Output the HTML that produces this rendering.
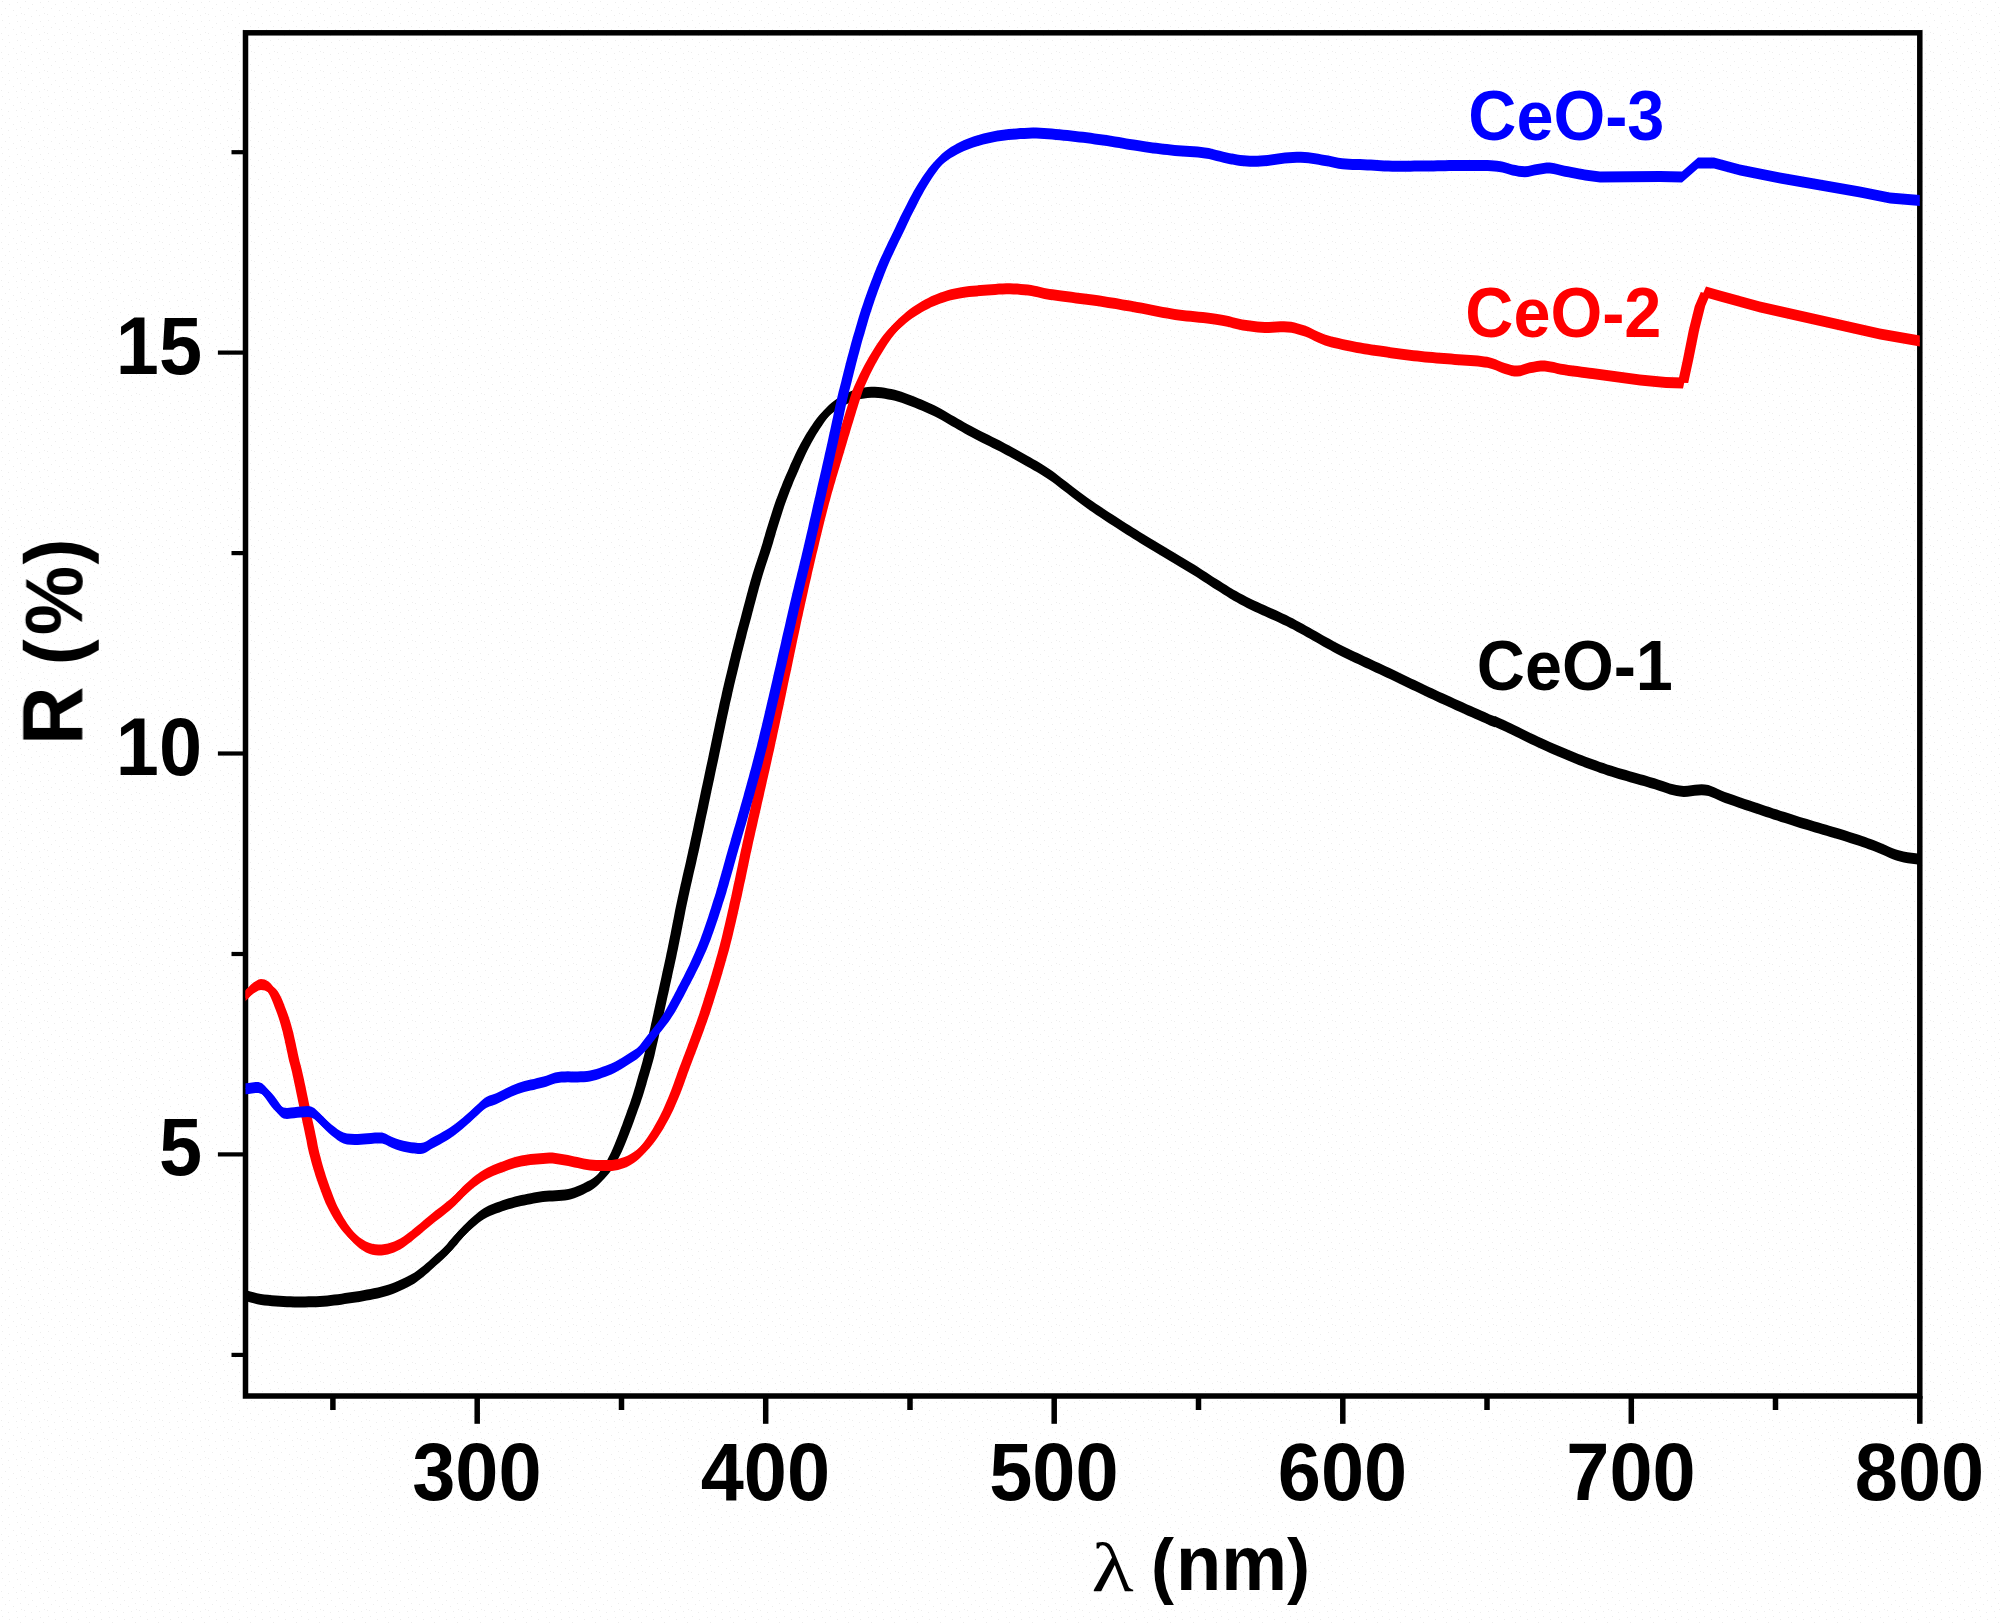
<!DOCTYPE html>
<html><head><meta charset="utf-8"><title>R vs lambda</title>
<style>
html,body{margin:0;padding:0;background:#fff;}
svg{display:block}
text{font-family:"Liberation Sans",sans-serif;font-weight:bold;}
</style></head><body>
<svg width="2001" height="1623" viewBox="0 0 2001 1623">
<defs>
<pattern id="dots" width="23" height="19" patternUnits="userSpaceOnUse">
<rect x="2" y="1" width="1" height="1"/><rect x="9" y="4" width="1" height="1"/><rect x="17" y="2" width="1" height="1"/>
<rect x="5" y="8" width="1" height="1"/><rect x="13" y="10" width="1" height="1"/><rect x="20" y="7" width="1" height="1"/>
<rect x="1" y="14" width="1" height="1"/><rect x="8" y="16" width="1" height="1"/><rect x="16" y="15" width="1" height="1"/><rect x="21" y="13" width="1" height="1"/>
</pattern>
<filter id="soft" x="0" y="0" width="100%" height="100%" filterUnits="userSpaceOnUse"><feGaussianBlur stdDeviation="0.6"/></filter>
<clipPath id="plot"><rect x="245.5" y="32.8" width="1674.3" height="1363.2"/></clipPath>
</defs>
<rect width="2001" height="1623" fill="#ffffff"/>
<rect width="2001" height="1623" fill="url(#dots)" opacity="0.07"/>
<g filter="url(#soft)">
<rect x="245.5" y="32.8" width="1674.3" height="1363.2" fill="none" stroke="#000" stroke-width="5.5"/>
<g clip-path="url(#plot)">
<g fill="#000000"><path d="M243.0,1289.5l1.6,0.4l3.3,0.9l2.6,0.6l3.1,0.9l3.5,0.9l3.9,0.7l3.4,0.5l3.7,0.4l3.9,0.4l3.9,0.3l3.9,0.3l3.6,0.2l3.5,0.2l3.7,0.1l3.8,0.1l4.1,0l3.2,0l3.5,0l3.6,-0.1l3.7,0l3.7,-0.1l3.7,-0.2l3.6,-0.2l3.6,-0.4l3.5,-0.3l3.6,-0.5l3.6,-0.4l3.6,-0.5l3.5,-0.6l3.6,-0.5l3.6,-0.6l3.7,-0.5l3.7,-0.6l3.7,-0.7l3.6,-0.6l3.5,-0.7l3.2,-0.7l4.2,-0.8l3.7,-0.9l3.7,-0.9l3.5,-1.1l3.6,-1.3l3.2,-1.2l3.3,-1.4l3.3,-1.5l3.2,-1.5l3,-1.6l2.8,-1.5l3.6,-2.1l3,-2.1l2.9,-2.2l3,-2.3l2.5,-2.2l2.5,-2.2l2.6,-2.3l2.5,-2.4l2.4,-2.2l3,-2.6l2.8,-2.5l2.9,-2.6l2.8,-2.8l2.2,-2.5l2.3,-2.6l2.2,-2.8l2.2,-2.7l2.4,-2.6l2.4,-2.6l2.5,-2.6l2.5,-2.6l2.5,-2.4l2.5,-2.4l2.6,-2.2l2.4,-2.1l2.6,-2.1l2.4,-1.9l2.6,-1.7l3.1,-1.7l3.1,-1.4l3.1,-1.3l3.1,-1.2l3.2,-1.2l3.1,-1.1l3.1,-1.1l3.2,-1l3.1,-0.8l3.1,-0.8l3.1,-0.8l3.1,-0.7l3.2,-0.7l3.1,-0.6l3.1,-0.6l3.2,-0.6l3.1,-0.5l3.1,-0.5l3.1,-0.5l3.1,-0.3l3.2,-0.3l3.1,-0.1l3.1,-0.1l3.2,-0.2l3.1,-0.3l3.1,-0.4l3.1,-0.4l3.1,-0.8l3.2,-0.9l3.1,-1.2l3.1,-1.4l3.2,-1.5l3.1,-1.6l3.3,-1.7l3.1,-2l2.9,-2.1l2.8,-2.5l2.5,-2.7l2.4,-2.9l2.3,-3.2l1.9,-2.7l1.8,-2.9l1.8,-3l1.6,-3.2l1.7,-3.2l1.6,-3.3l1.5,-3.4l1.5,-3.5l1.4,-3.6l1.5,-3.7l1.3,-3.2l1.2,-3.2l1.2,-3.4l1.3,-3.3l1.3,-3.5l1.2,-3.4l1.3,-3.5l1.2,-3.5l1.3,-3.5l1.3,-3.6l1.2,-3.6l1.2,-3.5l1.1,-3.6l1.1,-3.7l1.1,-3.6l1,-3.6l1,-3.5l1,-3.3l1,-3.6l1,-3.2l0.9,-3.2l1,-3.4l1.1,-4.1l0.7,-3l0.7,-3.2l0.8,-3.5l0.8,-3.6l0.9,-3.6l0.8,-3.7l0.7,-3.5l0.8,-3.4l0.8,-3.4l0.6,-3.1l0.7,-2.8l0.6,-3l0.8,-3.4l0.9,-4.2l1.1,-5.1l0.6,-2.8l0.7,-3.1l0.7,-3.3l0.8,-3.4l0.8,-3.7l0.8,-3.8l0.9,-3.9l0.9,-3.9l0.8,-4l0.9,-4l0.9,-4l0.8,-3.9l0.9,-3.9l0.7,-3.7l0.8,-3.6l0.8,-4l0.8,-4l0.8,-3.9l0.8,-3.9l0.7,-3.8l0.8,-3.8l0.7,-3.8l0.8,-3.8l0.7,-3.8l0.7,-3.8l0.8,-3.8l0.8,-3.8l0.8,-3.8l0.8,-3.8l0.9,-3.9l0.8,-3.8l0.9,-3.9l0.9,-3.8l0.8,-3.9l0.9,-3.8l0.9,-3.9l0.9,-3.8l0.9,-3.9l0.8,-3.8l0.9,-3.9l0.9,-3.8l0.8,-3.8l0.8,-3.9l0.8,-3.8l0.9,-3.9l0.8,-3.8l0.8,-3.9l0.8,-3.8l0.8,-3.9l0.8,-3.8l0.9,-3.9l0.8,-3.8l0.8,-3.9l0.8,-3.8l0.8,-3.8l0.8,-3.9l0.8,-3.8l0.9,-3.9l0.8,-3.8l0.8,-3.9l0.8,-3.8l0.8,-3.9l0.8,-3.8l0.9,-3.9l0.8,-3.8l0.8,-3.9l0.8,-3.8l0.8,-3.8l0.8,-3.9l0.8,-3.8l0.8,-3.9l0.8,-3.8l0.8,-3.9l0.8,-3.8l0.8,-3.9l0.8,-3.8l0.9,-3.9l0.8,-3.8l0.8,-3.9l0.9,-3.8l0.9,-3.8l0.8,-3.9l0.9,-3.8l0.9,-3.9l0.9,-3.8l0.9,-3.9l1,-3.8l0.9,-3.9l0.9,-3.8l0.9,-3.9l1,-3.8l0.9,-3.9l1,-3.8l1,-3.9l1,-4l1.1,-4.2l1,-4.1l1.1,-4.2l1.1,-4.1l1.1,-4.1l1.1,-4l1,-3.9l1,-3.7l0.9,-3.5l0.9,-3.3l0.8,-3l1.3,-4.9l1.1,-4.1l0.9,-3.5l0.9,-3.1l0.8,-3l0.9,-3l1,-3.4l1.1,-3.6l1.1,-3.5l1.2,-3.6l1.2,-3.6l1.2,-3.6l1.2,-3.5l1.1,-3.6l1.1,-3.6l1.1,-3.5l1,-3.6l1.1,-3.6l1,-3.6l1.1,-3.5l1.1,-3.6l1.1,-3.6l1.1,-3.5l1.2,-3.6l1.1,-3.6l1.2,-3.6l1.2,-3.5l1.2,-3.6l1.4,-3.6l1.3,-3.5l1.4,-3.6l1.5,-3.6l1.4,-3.6l1.5,-3.5l1.5,-3.6l1.6,-3.6l1.6,-3.7l1.5,-3.6l1.7,-3.7l1.6,-3.5l1.6,-3.5l1.7,-3.4l1.7,-3.3l1.7,-3.1l1.7,-3.1l1.7,-3.1l1.7,-2.9l1.8,-2.8l1.7,-2.7l2.4,-3.6l2.3,-3.4l2.4,-3.2l2.4,-3l2.5,-2.8l2.5,-2.5l2.6,-2.3l2.6,-2l2.8,-2l2.9,-1.9l3.3,-1.8l3.4,-1.8l3.6,-1.7l3.7,-1.5l3.5,-1.2l3.5,-0.8l3.4,-0.6l3.4,-0.4l3.6,-0.2l3.6,0l3.2,0.2l3.3,0.3l3.4,0.5l3.3,0.6l3.4,0.7l3.4,0.7l3.3,1l3.4,1l3.3,1.2l3.3,1.2l3.4,1.3l3.3,1.3l3.3,1.4l3.4,1.3l3.3,1.4l3.3,1.5l3.4,1.6l3.3,1.6l3.3,1.7l3.3,1.8l3.4,2l3.3,1.9l3.3,1.9l3.4,1.9l3.2,1.9l3.3,1.8l3.2,1.9l3.2,1.8l3.4,1.9l3.7,2l3.3,1.7l3.4,1.7l3.6,1.8l3.7,1.8l3.7,1.8l3.6,1.8l3.7,1.9l3.1,1.6l3.1,1.7l3.1,1.7l3.1,1.7l3.2,1.7l3.1,1.8l3.1,1.7l3.1,1.8l3.1,1.7l2.8,1.6l2.8,1.6l2.9,1.6l2.9,1.7l3.2,2l3.5,2.2l3.8,2.6l2.6,1.8l2.7,2l2.8,2.1l2.8,2.2l3,2.3l3.1,2.4l3.1,2.4l3.2,2.5l3.3,2.5l3.3,2.5l3.4,2.5l3.4,2.5l3.5,2.5l3,2.1l3.1,2.1l3.2,2.1l3.3,2.2l3.3,2.2l3.4,2.2l3.3,2.2l3.5,2.2l3.4,2.2l3.4,2.2l3.5,2.2l3.4,2.2l3.4,2.1l3.4,2.1l3.4,2.1l3.3,2.1l3.3,2.1l3.3,2l3.4,2l3.3,2l3.3,2l3.4,1.9l3.3,2l3.3,2l3.4,1.9l3.3,2l3.3,2l3.4,2l3.3,2l3.3,2l3.4,2.1l3.3,2.1l3.3,2.1l3.4,2.2l3.3,2.1l3.3,2.2l3.3,2.2l3.4,2.1l3.3,2.1l3.3,2.2l3.4,2l3.3,2.1l3.3,2l3.4,1.9l3.3,1.9l3.6,1.9l3.5,1.8l3.6,1.8l3.6,1.7l3.5,1.6l3.6,1.7l3.6,1.6l3.6,1.6l3.5,1.6l3.6,1.6l3.6,1.6l3.5,1.7l3.6,1.7l3.6,1.8l3.3,1.7l3.3,1.8l3.4,1.8l3.3,1.9l3.3,1.8l3.4,1.9l3.3,1.9l3.3,1.9l3.4,1.9l3.3,1.9l3.3,1.8l3.4,1.9l3.3,1.8l3.3,1.8l3.4,1.7l3.5,1.8l3.6,1.8l3.6,1.7l3.5,1.7l3.6,1.7l3.6,1.7l3.5,1.7l3.6,1.6l3.6,1.7l3.5,1.7l3.6,1.6l3.6,1.7l3.6,1.6l3.5,1.7l3.6,1.7l3.6,1.7l3.5,1.7l3.6,1.7l3.6,1.8l3.5,1.7l3.6,1.7l3.6,1.7l3.6,1.7l3.5,1.7l3.6,1.7l3.6,1.6l3.5,1.7l3.6,1.7l3.7,1.7l3.8,1.7l3.9,1.8l4,1.8l4.1,1.9l4,1.8l4,1.8l3.8,1.7l3.8,1.6l3.5,1.6l3.3,1.5l3,1.3l2.7,1.2l2.4,1.1l4.9,1.9l0.4,-0.2l4.9,2.1l2.3,1.1l2.8,1.2l3,1.5l3.3,1.6l3.5,1.7l3.7,1.8l3.9,1.9l4,1.9l4,2l4,1.9l4,1.9l4,1.8l3.8,1.8l3.7,1.6l3.5,1.6l3.6,1.5l3.6,1.5l3.6,1.5l3.5,1.5l3.6,1.5l3.6,1.4l3.5,1.5l3.6,1.4l3.6,1.4l3.5,1.3l3.6,1.3l3.6,1.3l3.6,1.3l3.6,1.2l3.7,1.3l3.7,1.2l3.8,1.1l3.8,1.2l3.8,1.1l3.8,1.1l3.7,1.1l3.7,1l3.5,1l3.4,1l3.3,0.9l3.2,0.9l2.9,0.9l4.8,1.4l4.2,1.4l4,1.4l3.6,1.2l3.4,1.1l3.3,0.9l3.3,0.8l3.4,0.5l3.9,0.3l3.8,-0.1l3.6,-0.5l3.6,-0.5l3.5,-0.4l3.3,-0.2l3.3,0.2l3.6,0.7l3.2,1.1l3.2,1.3l3.1,1.5l3.3,1.5l3.6,1.4l3.1,1.1l2.9,1.1l3,1l3.3,1.2l3.6,1.2l4.2,1.5l4.9,1.6l2.8,1l3,1l3.2,1l3.4,1.2l3.6,1.1l3.6,1.2l3.8,1.3l3.8,1.2l3.9,1.3l3.8,1.2l3.9,1.2l3.8,1.2l3.7,1.2l3.7,1.2l3.6,1.1l3.7,1.1l3.8,1.2l3.9,1.1l3.8,1.2l3.9,1.1l3.8,1.1l3.8,1.1l3.6,1.1l3.6,1.1l3.4,1l3.2,1l3,0.9l2.8,0.9l4.9,1.5l4.1,1.4l3.5,1.2l3.1,1.1l3,1.1l3.1,1.1l3.3,1.3l3.6,1.4l3.6,1.6l3.5,1.5l3.6,1.6l3.6,1.5l3.5,1.3l3.6,1.1l3.8,0.9l4.1,0.7l4.1,0.6l4,0.5l3.7,0.4l3,0.4l2.3,0.3l0,11l-2.3,-0.3l-3,-0.4l-3.7,-0.4l-4,-0.5l-4.1,-0.6l-4.1,-0.7l-3.8,-0.9l-3.6,-1.1l-3.5,-1.3l-3.6,-1.5l-3.6,-1.6l-3.5,-1.5l-3.6,-1.6l-3.6,-1.4l-3.3,-1.3l-3.1,-1.1l-3,-1.1l-3.1,-1.1l-3.5,-1.2l-4.1,-1.4l-4.9,-1.5l-2.8,-0.9l-3,-0.9l-3.2,-1l-3.4,-1l-3.6,-1.1l-3.6,-1.1l-3.8,-1.1l-3.8,-1.1l-3.9,-1.1l-3.8,-1.2l-3.9,-1.1l-3.8,-1.2l-3.7,-1.1l-3.6,-1.1l-3.7,-1.2l-3.7,-1.2l-3.8,-1.2l-3.9,-1.2l-3.8,-1.2l-3.9,-1.3l-3.8,-1.2l-3.8,-1.3l-3.6,-1.2l-3.6,-1.1l-3.4,-1.2l-3.2,-1l-3,-1l-2.8,-1l-4.9,-1.6l-4.2,-1.5l-3.6,-1.2l-3.3,-1.2l-3,-1l-2.9,-1.1l-3.1,-1.1l-3.6,-1.4l-3.3,-1.5l-3.1,-1.5l-3.2,-1.3l-3.2,-1.1l-3.6,-0.7l-3.3,-0.2l-3.3,0.2l-3.5,0.4l-3.6,0.5l-3.6,0.5l-3.8,0.1l-3.9,-0.3l-3.4,-0.5l-3.3,-0.8l-3.3,-0.9l-3.4,-1.1l-3.6,-1.2l-4,-1.4l-4.2,-1.4l-4.8,-1.4l-2.9,-0.9l-3.2,-0.9l-3.3,-0.9l-3.4,-1l-3.5,-1l-3.7,-1l-3.7,-1.1l-3.8,-1.1l-3.8,-1.1l-3.8,-1.2l-3.8,-1.1l-3.7,-1.2l-3.7,-1.3l-3.6,-1.2l-3.6,-1.3l-3.6,-1.3l-3.6,-1.3l-3.5,-1.3l-3.6,-1.4l-3.6,-1.4l-3.5,-1.5l-3.6,-1.4l-3.6,-1.5l-3.5,-1.5l-3.6,-1.5l-3.6,-1.5l-3.6,-1.5l-3.5,-1.6l-3.7,-1.6l-3.8,-1.8l-4,-1.8l-4,-1.9l-4,-1.9l-4,-2l-4,-1.9l-3.9,-1.9l-3.7,-1.8l-3.5,-1.7l-3.3,-1.6l-3,-1.5l-2.8,-1.2l-2.3,-1.1l-4.9,-2.1l-0.4,0.2l-4.9,-1.9l-2.4,-1.1l-2.7,-1.2l-3,-1.3l-3.3,-1.5l-3.5,-1.6l-3.8,-1.6l-3.8,-1.7l-4,-1.8l-4,-1.8l-4.1,-1.9l-4,-1.8l-3.9,-1.8l-3.8,-1.7l-3.7,-1.7l-3.6,-1.7l-3.5,-1.7l-3.6,-1.6l-3.6,-1.7l-3.5,-1.7l-3.6,-1.7l-3.6,-1.7l-3.6,-1.7l-3.5,-1.7l-3.6,-1.8l-3.6,-1.7l-3.5,-1.7l-3.6,-1.7l-3.6,-1.7l-3.5,-1.7l-3.6,-1.6l-3.6,-1.7l-3.6,-1.6l-3.5,-1.7l-3.6,-1.7l-3.6,-1.6l-3.5,-1.7l-3.6,-1.7l-3.6,-1.7l-3.5,-1.7l-3.6,-1.7l-3.6,-1.8l-3.5,-1.8l-3.4,-1.7l-3.3,-1.8l-3.3,-1.8l-3.4,-1.9l-3.3,-1.8l-3.3,-1.9l-3.4,-1.9l-3.3,-1.9l-3.3,-1.9l-3.4,-1.9l-3.3,-1.8l-3.3,-1.9l-3.4,-1.8l-3.3,-1.8l-3.3,-1.7l-3.6,-1.8l-3.6,-1.7l-3.5,-1.7l-3.6,-1.6l-3.6,-1.6l-3.5,-1.6l-3.6,-1.6l-3.6,-1.6l-3.6,-1.7l-3.5,-1.6l-3.6,-1.7l-3.6,-1.8l-3.5,-1.8l-3.6,-1.9l-3.3,-1.9l-3.4,-1.9l-3.3,-2l-3.3,-2.1l-3.4,-2l-3.3,-2.2l-3.3,-2.1l-3.4,-2.1l-3.3,-2.2l-3.3,-2.2l-3.3,-2.1l-3.4,-2.2l-3.3,-2.1l-3.3,-2.1l-3.4,-2.1l-3.3,-2l-3.3,-2l-3.4,-2l-3.3,-2l-3.3,-2l-3.4,-1.9l-3.3,-2l-3.3,-2l-3.4,-1.9l-3.3,-2l-3.3,-2l-3.4,-2l-3.3,-2l-3.3,-2.1l-3.3,-2.1l-3.4,-2.1l-3.4,-2.1l-3.4,-2.1l-3.4,-2.2l-3.5,-2.2l-3.4,-2.2l-3.4,-2.2l-3.5,-2.2l-3.3,-2.2l-3.4,-2.2l-3.3,-2.2l-3.3,-2.2l-3.2,-2.1l-3.1,-2.1l-3,-2.1l-3.5,-2.5l-3.4,-2.5l-3.4,-2.5l-3.3,-2.5l-3.3,-2.5l-3.2,-2.5l-3.1,-2.4l-3.1,-2.4l-3,-2.3l-2.8,-2.2l-2.8,-2.1l-2.7,-2l-2.6,-1.8l-3.8,-2.6l-3.5,-2.2l-3.2,-2l-2.9,-1.7l-2.9,-1.6l-2.8,-1.6l-2.8,-1.6l-3.1,-1.7l-3.1,-1.8l-3.1,-1.7l-3.1,-1.8l-3.2,-1.7l-3.1,-1.7l-3.1,-1.7l-3.1,-1.7l-3.1,-1.6l-3.7,-1.9l-3.6,-1.8l-3.7,-1.8l-3.7,-1.8l-3.6,-1.8l-3.4,-1.7l-3.3,-1.7l-3.7,-2l-3.4,-1.9l-3.2,-1.8l-3.2,-1.9l-3.3,-1.8l-3.2,-1.9l-3.4,-1.9l-3.3,-1.9l-3.3,-1.9l-3.4,-2l-3.3,-1.8l-3.3,-1.7l-3.3,-1.6l-3.4,-1.6l-3.3,-1.5l-3.3,-1.4l-3.4,-1.3l-3.3,-1.4l-3.3,-1.3l-3.4,-1.3l-3.3,-1.2l-3.3,-1.2l-3.4,-1l-3.3,-1l-3.4,-0.7l-3.4,-0.7l-3.3,-0.6l-3.4,-0.5l-3.3,-0.3l-3.2,-0.2l-3.6,0l-3.6,0.2l-3.4,0.4l-3.4,0.6l-3.5,0.8l-3.5,1.2l-3.7,1.5l-3.6,1.7l-3.4,1.8l-3.3,1.8l-2.9,1.9l-2.8,2l-2.6,2l-2.6,2.3l-2.5,2.5l-2.5,2.8l-2.4,3l-2.4,3.2l-2.3,3.4l-2.4,3.6l-1.7,2.7l-1.8,2.8l-1.7,2.9l-1.7,3.1l-1.7,3.1l-1.7,3.1l-1.7,3.3l-1.7,3.4l-1.6,3.5l-1.6,3.5l-1.7,3.7l-1.5,3.6l-1.6,3.7l-1.6,3.6l-1.5,3.6l-1.5,3.5l-1.4,3.6l-1.5,3.6l-1.4,3.6l-1.3,3.5l-1.4,3.6l-1.2,3.6l-1.2,3.5l-1.2,3.6l-1.1,3.6l-1.2,3.6l-1.1,3.5l-1.1,3.6l-1.1,3.6l-1.1,3.5l-1,3.6l-1.1,3.6l-1,3.6l-1.1,3.5l-1.1,3.6l-1.1,3.6l-1.2,3.5l-1.2,3.6l-1.2,3.6l-1.2,3.6l-1.1,3.5l-1.1,3.6l-1,3.4l-0.9,3l-0.8,3l-0.9,3.1l-0.9,3.5l-1.1,4.1l-1.3,4.9l-0.8,3l-0.9,3.3l-0.9,3.5l-1,3.7l-1,3.9l-1.1,4l-1.1,4.1l-1.1,4.1l-1.1,4.2l-1,4.1l-1.1,4.2l-1,4l-1,3.9l-1,3.8l-0.9,3.9l-1,3.8l-0.9,3.9l-0.9,3.8l-0.9,3.9l-1,3.8l-0.9,3.9l-0.9,3.8l-0.9,3.9l-0.9,3.8l-0.8,3.9l-0.9,3.8l-0.9,3.8l-0.8,3.9l-0.8,3.8l-0.9,3.9l-0.8,3.8l-0.8,3.9l-0.8,3.8l-0.8,3.9l-0.8,3.8l-0.8,3.9l-0.8,3.8l-0.8,3.9l-0.8,3.8l-0.8,3.8l-0.8,3.9l-0.8,3.8l-0.9,3.9l-0.8,3.8l-0.8,3.9l-0.8,3.8l-0.8,3.9l-0.8,3.8l-0.9,3.9l-0.8,3.8l-0.8,3.9l-0.8,3.8l-0.8,3.8l-0.8,3.9l-0.8,3.8l-0.9,3.9l-0.8,3.8l-0.8,3.9l-0.8,3.8l-0.8,3.9l-0.8,3.8l-0.9,3.9l-0.8,3.8l-0.8,3.9l-0.8,3.8l-0.9,3.8l-0.9,3.9l-0.8,3.8l-0.9,3.9l-0.9,3.8l-0.9,3.9l-0.9,3.8l-0.8,3.9l-0.9,3.8l-0.9,3.9l-0.8,3.8l-0.9,3.9l-0.8,3.8l-0.8,3.8l-0.8,3.8l-0.8,3.8l-0.7,3.8l-0.7,3.8l-0.8,3.8l-0.7,3.8l-0.8,3.8l-0.7,3.8l-0.8,3.9l-0.8,3.9l-0.8,4l-0.8,4l-0.8,3.6l-0.7,3.7l-0.9,3.9l-0.8,3.9l-0.9,4l-0.9,4l-0.8,4l-0.9,3.9l-0.9,3.9l-0.8,3.8l-0.8,3.7l-0.8,3.4l-0.7,3.3l-0.7,3.1l-0.6,2.8l-1.1,5.1l-0.9,4.2l-0.8,3.4l-0.6,3l-0.7,2.8l-0.6,3.1l-0.8,3.4l-0.8,3.4l-0.7,3.5l-0.8,3.7l-0.9,3.6l-0.8,3.6l-0.8,3.5l-0.7,3.2l-0.7,3l-1.1,4.1l-1,3.4l-0.9,3.2l-1,3.2l-1,3.6l-1,3.3l-1,3.5l-1,3.6l-1.1,3.6l-1.1,3.7l-1.1,3.6l-1.2,3.5l-1.2,3.6l-1.3,3.6l-1.3,3.5l-1.2,3.5l-1.3,3.5l-1.2,3.4l-1.3,3.5l-1.3,3.3l-1.2,3.4l-1.2,3.2l-1.3,3.2l-1.5,3.7l-1.4,3.6l-1.5,3.5l-1.5,3.4l-1.6,3.3l-1.7,3.2l-1.6,3.2l-1.8,3l-1.8,2.9l-1.9,2.7l-2.3,3.2l-2.4,2.9l-2.5,2.7l-2.8,2.5l-2.9,2.1l-3.1,2l-3.3,1.7l-3.1,1.6l-3.2,1.5l-3.1,1.4l-3.1,1.2l-3.2,0.9l-3.1,0.8l-3.1,0.4l-3.1,0.4l-3.1,0.3l-3.2,0.2l-3.1,0.1l-3.1,0.1l-3.2,0.3l-3.1,0.3l-3.1,0.5l-3.1,0.5l-3.1,0.5l-3.2,0.6l-3.1,0.6l-3.1,0.6l-3.2,0.7l-3.1,0.7l-3.1,0.8l-3.1,0.8l-3.1,0.8l-3.2,1l-3.1,1.1l-3.1,1.1l-3.2,1.2l-3.1,1.2l-3.1,1.3l-3.1,1.4l-3.1,1.7l-2.6,1.7l-2.4,1.9l-2.6,2.1l-2.4,2.1l-2.6,2.2l-2.5,2.4l-2.5,2.4l-2.5,2.6l-2.5,2.6l-2.4,2.6l-2.4,2.6l-2.2,2.7l-2.2,2.8l-2.3,2.6l-2.2,2.5l-2.8,2.8l-2.9,2.6l-2.8,2.5l-3,2.6l-2.4,2.2l-2.5,2.4l-2.6,2.3l-2.5,2.2l-2.5,2.2l-3,2.3l-2.9,2.2l-3,2.1l-3.6,2.1l-2.8,1.5l-3,1.6l-3.2,1.5l-3.3,1.5l-3.3,1.4l-3.2,1.2l-3.6,1.3l-3.5,1.1l-3.7,0.9l-3.7,0.9l-4.2,0.8l-3.2,0.7l-3.5,0.7l-3.6,0.6l-3.7,0.7l-3.7,0.6l-3.7,0.5l-3.6,0.6l-3.6,0.5l-3.5,0.6l-3.6,0.5l-3.6,0.4l-3.6,0.5l-3.5,0.3l-3.6,0.4l-3.6,0.2l-3.7,0.2l-3.7,0.1l-3.7,0l-3.6,0.1l-3.5,0l-3.2,0l-4.1,0l-3.8,-0.1l-3.7,-0.1l-3.5,-0.2l-3.6,-0.2l-3.9,-0.3l-3.9,-0.3l-3.9,-0.4l-3.7,-0.4l-3.4,-0.5l-3.9,-0.7l-3.5,-0.9l-3.1,-0.9l-2.6,-0.6l-3.3,-0.9l-1.6,-0.4z"/><path d="M237.8,1295.0l1.6,0.4l3.3,0.8l2.6,0.7l3.1,0.9l3.5,0.9l3.9,0.7l3.4,0.5l3.7,0.4l3.9,0.4l3.9,0.3l3.9,0.2l3.6,0.3l3.6,0.2l3.6,0.1l3.8,0.1l4.1,0l3.2,0l3.5,0l3.6,-0.1l3.7,0l3.7,-0.1l3.7,-0.2l3.6,-0.3l3.6,-0.3l3.5,-0.3l3.6,-0.5l3.6,-0.4l3.6,-0.5l3.5,-0.6l3.6,-0.5l3.6,-0.6l3.7,-0.5l3.7,-0.6l3.7,-0.7l3.6,-0.6l3.5,-0.7l3.2,-0.6l4.2,-0.9l3.7,-0.9l3.7,-0.9l3.5,-1.1l3.7,-1.2l3.1,-1.3l3.3,-1.4l3.3,-1.5l3.2,-1.5l3,-1.6l2.8,-1.5l3.6,-2.1l3,-2.1l2.9,-2.2l3,-2.4l2.5,-2.1l2.5,-2.2l2.6,-2.3l2.5,-2.4l2.4,-2.2l3,-2.6l2.8,-2.5l2.9,-2.6l2.8,-2.8l2.2,-2.5l2.3,-2.6l2.2,-2.8l2.2,-2.7l2.4,-2.7l2.4,-2.5l2.5,-2.6l2.5,-2.6l2.5,-2.4l2.6,-2.3l2.5,-2.3l2.5,-2.1l2.5,-2.1l2.5,-1.9l2.5,-1.6l3.1,-1.8l3.1,-1.4l3.1,-1.3l3.2,-1.2l3.1,-1.2l3.1,-1.1l3.1,-1.1l3.2,-0.9l3.1,-0.9l3.1,-0.8l3.1,-0.8l3.1,-0.7l3.2,-0.7l3.1,-0.6l3.1,-0.6l3.1,-0.6l3.2,-0.5l3.1,-0.5l3.1,-0.5l3.1,-0.4l3.2,-0.2l3.1,-0.1l3.1,-0.1l3.1,-0.2l3.2,-0.3l3.1,-0.4l3.1,-0.4l3.1,-0.7l3.2,-1l3.1,-1.2l3.1,-1.4l3.1,-1.4l3.2,-1.7l3.3,-1.7l3.1,-2l2.9,-2.2l2.8,-2.4l2.5,-2.7l2.4,-2.9l2.3,-3.2l1.9,-2.7l1.8,-2.9l1.8,-3l1.6,-3.2l1.7,-3.2l1.6,-3.3l1.5,-3.4l1.5,-3.5l1.4,-3.6l1.5,-3.7l1.3,-3.2l1.2,-3.2l1.2,-3.4l1.3,-3.3l1.2,-3.5l1.3,-3.4l1.3,-3.5l1.2,-3.5l1.3,-3.5l1.3,-3.6l1.2,-3.6l1.2,-3.6l1.1,-3.5l1.1,-3.7l1.1,-3.6l1,-3.6l1,-3.5l0.9,-3.3l1.1,-3.6l1,-3.2l0.9,-3.2l1,-3.4l1,-4.1l0.8,-3l0.7,-3.2l0.8,-3.5l0.8,-3.6l0.9,-3.6l0.8,-3.7l0.7,-3.5l0.8,-3.4l0.8,-3.4l0.6,-3.1l0.7,-2.8l0.6,-3l0.8,-3.4l0.9,-4.2l1.1,-5.1l0.6,-2.8l0.7,-3.1l0.7,-3.3l0.8,-3.4l0.8,-3.7l0.8,-3.8l0.9,-3.9l0.9,-3.9l0.8,-4l0.9,-4l0.9,-4l0.8,-3.9l0.9,-3.9l0.7,-3.7l0.8,-3.6l0.8,-4l0.8,-4l0.8,-3.9l0.8,-3.9l0.7,-3.8l0.8,-3.8l0.7,-3.8l0.8,-3.8l0.7,-3.8l0.7,-3.8l0.8,-3.8l0.8,-3.8l0.8,-3.8l0.8,-3.8l0.9,-3.9l0.8,-3.8l0.9,-3.9l0.9,-3.8l0.8,-3.9l0.9,-3.8l0.9,-3.9l0.9,-3.8l0.9,-3.9l0.8,-3.8l0.9,-3.9l0.8,-3.8l0.9,-3.8l0.8,-3.9l0.8,-3.8l0.9,-3.9l0.8,-3.8l0.8,-3.9l0.8,-3.8l0.8,-3.9l0.8,-3.8l0.9,-3.9l0.8,-3.8l0.8,-3.9l0.8,-3.8l0.8,-3.8l0.8,-3.9l0.8,-3.8l0.9,-3.9l0.8,-3.8l0.8,-3.9l0.8,-3.8l0.8,-3.9l0.8,-3.8l0.9,-3.9l0.8,-3.8l0.8,-3.9l0.8,-3.8l0.8,-3.8l0.8,-3.9l0.8,-3.8l0.8,-3.9l0.8,-3.8l0.8,-3.9l0.8,-3.8l0.8,-3.9l0.8,-3.8l0.9,-3.9l0.8,-3.8l0.8,-3.9l0.9,-3.8l0.9,-3.8l0.8,-3.9l0.9,-3.8l0.9,-3.9l0.9,-3.8l0.9,-3.9l1,-3.8l0.9,-3.9l0.9,-3.8l0.9,-3.9l1,-3.8l0.9,-3.9l1,-3.8l1,-3.9l1,-4l1.1,-4.2l1,-4.1l1.1,-4.2l1.1,-4.1l1.1,-4.1l1.1,-4l1,-3.9l1,-3.7l0.9,-3.5l0.9,-3.3l0.8,-3l1.3,-4.9l1.1,-4.1l0.9,-3.5l0.9,-3.1l0.8,-3l0.9,-3l1,-3.4l1.1,-3.6l1.1,-3.5l1.2,-3.6l1.2,-3.6l1.2,-3.6l1.2,-3.5l1.1,-3.6l1.1,-3.6l1.1,-3.5l1,-3.6l1.1,-3.6l1,-3.6l1.1,-3.5l1.1,-3.6l1.1,-3.6l1.1,-3.5l1.2,-3.6l1.1,-3.6l1.2,-3.6l1.2,-3.5l1.2,-3.6l1.4,-3.6l1.3,-3.5l1.4,-3.6l1.5,-3.6l1.4,-3.6l1.5,-3.5l1.5,-3.6l1.6,-3.6l1.6,-3.7l1.5,-3.6l1.7,-3.7l1.6,-3.5l1.6,-3.5l1.7,-3.4l1.7,-3.3l1.7,-3.1l1.7,-3.1l1.7,-3.1l1.7,-2.9l1.8,-2.8l1.7,-2.7l2.4,-3.6l2.3,-3.4l2.4,-3.2l2.4,-3l2.5,-2.8l2.5,-2.5l2.6,-2.3l2.6,-2l2.8,-2l2.9,-1.9l3.3,-1.8l3.4,-1.8l3.6,-1.7l3.7,-1.5l3.5,-1.2l3.5,-0.8l3.4,-0.6l3.4,-0.4l3.6,-0.2l3.6,0l3.2,0.2l3.3,0.3l3.4,0.5l3.3,0.6l3.4,0.7l3.4,0.7l3.3,1l3.4,1l3.3,1.2l3.3,1.2l3.4,1.3l3.3,1.3l3.3,1.4l3.4,1.3l3.3,1.4l3.3,1.5l3.4,1.6l3.3,1.6l3.3,1.7l3.3,1.8l3.4,2l3.3,1.9l3.3,1.9l3.4,1.9l3.2,1.9l3.3,1.8l3.2,1.9l3.2,1.8l3.4,1.9l3.7,2l3.3,1.7l3.4,1.7l3.6,1.8l3.7,1.8l3.7,1.8l3.6,1.8l3.7,1.9l3.1,1.6l3.1,1.7l3.1,1.7l3.1,1.7l3.2,1.7l3.1,1.8l3.1,1.7l3.1,1.8l3.1,1.7l2.8,1.6l2.8,1.6l2.9,1.6l2.9,1.7l3.2,2l3.5,2.2l3.8,2.6l2.6,1.8l2.7,2l2.8,2.1l2.8,2.2l3,2.3l3.1,2.4l3.1,2.4l3.2,2.5l3.3,2.5l3.3,2.5l3.4,2.5l3.4,2.5l3.5,2.5l3,2.1l3.1,2.1l3.2,2.1l3.3,2.2l3.3,2.2l3.4,2.2l3.3,2.2l3.5,2.2l3.4,2.2l3.4,2.2l3.5,2.2l3.4,2.2l3.4,2.1l3.4,2.1l3.4,2.1l3.3,2.1l3.3,2.1l3.3,2l3.4,2l3.3,2l3.3,2l3.4,1.9l3.3,2l3.3,2l3.4,1.9l3.3,2l3.3,2l3.4,2l3.3,2l3.3,2l3.4,2.1l3.3,2.1l3.3,2.1l3.4,2.2l3.3,2.1l3.3,2.2l3.3,2.2l3.4,2.1l3.3,2.1l3.3,2.2l3.4,2l3.3,2.1l3.3,2l3.4,1.9l3.3,1.9l3.6,1.9l3.5,1.8l3.6,1.8l3.6,1.7l3.5,1.6l3.6,1.7l3.6,1.6l3.6,1.6l3.5,1.6l3.6,1.6l3.6,1.6l3.5,1.7l3.6,1.7l3.6,1.8l3.3,1.7l3.3,1.8l3.4,1.8l3.3,1.9l3.3,1.8l3.4,1.9l3.3,1.9l3.3,1.9l3.4,1.9l3.3,1.9l3.3,1.8l3.4,1.9l3.3,1.8l3.3,1.8l3.4,1.7l3.5,1.8l3.6,1.8l3.6,1.7l3.5,1.7l3.6,1.7l3.6,1.7l3.5,1.7l3.6,1.6l3.6,1.7l3.5,1.7l3.6,1.6l3.6,1.7l3.6,1.6l3.5,1.7l3.6,1.7l3.6,1.7l3.5,1.7l3.6,1.7l3.6,1.8l3.5,1.7l3.6,1.7l3.6,1.7l3.6,1.7l3.5,1.7l3.6,1.7l3.6,1.6l3.5,1.7l3.6,1.7l3.7,1.7l3.8,1.7l3.9,1.8l4,1.8l4.1,1.9l4,1.8l4,1.8l3.8,1.7l3.8,1.6l3.5,1.6l3.3,1.5l3,1.3l2.7,1.2l2.4,1.1l4.9,1.9l0.4,-0.2l4.9,2.1l2.3,1.1l2.8,1.2l3,1.5l3.3,1.6l3.5,1.7l3.7,1.8l3.9,1.9l4,1.9l4,2l4,1.9l4,1.9l4,1.8l3.8,1.8l3.7,1.6l3.5,1.6l3.6,1.5l3.6,1.5l3.6,1.5l3.5,1.5l3.6,1.5l3.6,1.4l3.5,1.5l3.6,1.4l3.6,1.4l3.5,1.3l3.6,1.3l3.6,1.3l3.6,1.3l3.6,1.2l3.7,1.3l3.7,1.2l3.8,1.1l3.8,1.2l3.8,1.1l3.8,1.1l3.7,1.1l3.7,1l3.5,1l3.4,1l3.3,0.9l3.2,0.9l2.9,0.9l4.8,1.4l4.2,1.4l4,1.4l3.6,1.2l3.4,1.1l3.3,0.9l3.3,0.8l3.4,0.5l3.9,0.3l3.8,-0.1l3.6,-0.5l3.6,-0.5l3.5,-0.4l3.3,-0.2l3.3,0.2l3.6,0.7l3.2,1.1l3.2,1.3l3.1,1.5l3.3,1.5l3.6,1.4l3.1,1.1l2.9,1.1l3,1l3.3,1.2l3.6,1.2l4.2,1.5l4.9,1.6l2.8,1l3,1l3.2,1l3.4,1.2l3.6,1.1l3.6,1.2l3.8,1.3l3.8,1.2l3.9,1.3l3.8,1.2l3.9,1.2l3.8,1.2l3.7,1.2l3.7,1.2l3.6,1.1l3.7,1.1l3.8,1.2l3.9,1.1l3.8,1.2l3.9,1.1l3.8,1.1l3.8,1.1l3.6,1.1l3.6,1.1l3.4,1l3.2,1l3,0.9l2.8,0.9l4.9,1.5l4.1,1.4l3.5,1.2l3.1,1.1l3,1.1l3.1,1.1l3.3,1.3l3.6,1.4l3.6,1.6l3.5,1.5l3.6,1.6l3.6,1.5l3.5,1.3l3.6,1.1l3.8,0.9l4.1,0.7l4.1,0.6l4,0.5l3.7,0.4l3,0.4l2.3,0.3l10.4,0l-2.3,-0.3l-3,-0.4l-3.7,-0.4l-4,-0.5l-4.1,-0.6l-4.1,-0.7l-3.8,-0.9l-3.6,-1.1l-3.5,-1.3l-3.6,-1.5l-3.6,-1.6l-3.5,-1.5l-3.6,-1.6l-3.6,-1.4l-3.3,-1.3l-3.1,-1.1l-3,-1.1l-3.1,-1.1l-3.5,-1.2l-4.1,-1.4l-4.9,-1.5l-2.8,-0.9l-3,-0.9l-3.2,-1l-3.4,-1l-3.6,-1.1l-3.6,-1.1l-3.8,-1.1l-3.8,-1.1l-3.9,-1.1l-3.8,-1.2l-3.9,-1.1l-3.8,-1.2l-3.7,-1.1l-3.6,-1.1l-3.7,-1.2l-3.7,-1.2l-3.8,-1.2l-3.9,-1.2l-3.8,-1.2l-3.9,-1.3l-3.8,-1.2l-3.8,-1.3l-3.6,-1.2l-3.6,-1.1l-3.4,-1.2l-3.2,-1l-3,-1l-2.8,-1l-4.9,-1.6l-4.2,-1.5l-3.6,-1.2l-3.3,-1.2l-3,-1l-2.9,-1.1l-3.1,-1.1l-3.6,-1.4l-3.3,-1.5l-3.1,-1.5l-3.2,-1.3l-3.2,-1.1l-3.6,-0.7l-3.3,-0.2l-3.3,0.2l-3.5,0.4l-3.6,0.5l-3.6,0.5l-3.8,0.1l-3.9,-0.3l-3.4,-0.5l-3.3,-0.8l-3.3,-0.9l-3.4,-1.1l-3.6,-1.2l-4,-1.4l-4.2,-1.4l-4.8,-1.4l-2.9,-0.9l-3.2,-0.9l-3.3,-0.9l-3.4,-1l-3.5,-1l-3.7,-1l-3.7,-1.1l-3.8,-1.1l-3.8,-1.1l-3.8,-1.2l-3.8,-1.1l-3.7,-1.2l-3.7,-1.3l-3.6,-1.2l-3.6,-1.3l-3.6,-1.3l-3.6,-1.3l-3.5,-1.3l-3.6,-1.4l-3.6,-1.4l-3.5,-1.5l-3.6,-1.4l-3.6,-1.5l-3.5,-1.5l-3.6,-1.5l-3.6,-1.5l-3.6,-1.5l-3.5,-1.6l-3.7,-1.6l-3.8,-1.8l-4,-1.8l-4,-1.9l-4,-1.9l-4,-2l-4,-1.9l-3.9,-1.9l-3.7,-1.8l-3.5,-1.7l-3.3,-1.6l-3,-1.5l-2.8,-1.2l-2.3,-1.1l-4.9,-2.1l-0.4,0.2l-4.9,-1.9l-2.4,-1.1l-2.7,-1.2l-3,-1.3l-3.3,-1.5l-3.5,-1.6l-3.8,-1.6l-3.8,-1.7l-4,-1.8l-4,-1.8l-4.1,-1.9l-4,-1.8l-3.9,-1.8l-3.8,-1.7l-3.7,-1.7l-3.6,-1.7l-3.5,-1.7l-3.6,-1.6l-3.6,-1.7l-3.5,-1.7l-3.6,-1.7l-3.6,-1.7l-3.6,-1.7l-3.5,-1.7l-3.6,-1.8l-3.6,-1.7l-3.5,-1.7l-3.6,-1.7l-3.6,-1.7l-3.5,-1.7l-3.6,-1.6l-3.6,-1.7l-3.6,-1.6l-3.5,-1.7l-3.6,-1.7l-3.6,-1.6l-3.5,-1.7l-3.6,-1.7l-3.6,-1.7l-3.5,-1.7l-3.6,-1.7l-3.6,-1.8l-3.5,-1.8l-3.4,-1.7l-3.3,-1.8l-3.3,-1.8l-3.4,-1.9l-3.3,-1.8l-3.3,-1.9l-3.4,-1.9l-3.3,-1.9l-3.3,-1.9l-3.4,-1.9l-3.3,-1.8l-3.3,-1.9l-3.4,-1.8l-3.3,-1.8l-3.3,-1.7l-3.6,-1.8l-3.6,-1.7l-3.5,-1.7l-3.6,-1.6l-3.6,-1.6l-3.5,-1.6l-3.6,-1.6l-3.6,-1.6l-3.6,-1.7l-3.5,-1.6l-3.6,-1.7l-3.6,-1.8l-3.5,-1.8l-3.6,-1.9l-3.3,-1.9l-3.4,-1.9l-3.3,-2l-3.3,-2.1l-3.4,-2l-3.3,-2.2l-3.3,-2.1l-3.4,-2.1l-3.3,-2.2l-3.3,-2.2l-3.3,-2.1l-3.4,-2.2l-3.3,-2.1l-3.3,-2.1l-3.4,-2.1l-3.3,-2l-3.3,-2l-3.4,-2l-3.3,-2l-3.3,-2l-3.4,-1.9l-3.3,-2l-3.3,-2l-3.4,-1.9l-3.3,-2l-3.3,-2l-3.4,-2l-3.3,-2l-3.3,-2.1l-3.3,-2.1l-3.4,-2.1l-3.4,-2.1l-3.4,-2.1l-3.4,-2.2l-3.5,-2.2l-3.4,-2.2l-3.4,-2.2l-3.5,-2.2l-3.3,-2.2l-3.4,-2.2l-3.3,-2.2l-3.3,-2.2l-3.2,-2.1l-3.1,-2.1l-3,-2.1l-3.5,-2.5l-3.4,-2.5l-3.4,-2.5l-3.3,-2.5l-3.3,-2.5l-3.2,-2.5l-3.1,-2.4l-3.1,-2.4l-3,-2.3l-2.8,-2.2l-2.8,-2.1l-2.7,-2l-2.6,-1.8l-3.8,-2.6l-3.5,-2.2l-3.2,-2l-2.9,-1.7l-2.9,-1.6l-2.8,-1.6l-2.8,-1.6l-3.1,-1.7l-3.1,-1.8l-3.1,-1.7l-3.1,-1.8l-3.2,-1.7l-3.1,-1.7l-3.1,-1.7l-3.1,-1.7l-3.1,-1.6l-3.7,-1.9l-3.6,-1.8l-3.7,-1.8l-3.7,-1.8l-3.6,-1.8l-3.4,-1.7l-3.3,-1.7l-3.7,-2l-3.4,-1.9l-3.2,-1.8l-3.2,-1.9l-3.3,-1.8l-3.2,-1.9l-3.4,-1.9l-3.3,-1.9l-3.3,-1.9l-3.4,-2l-3.3,-1.8l-3.3,-1.7l-3.3,-1.6l-3.4,-1.6l-3.3,-1.5l-3.3,-1.4l-3.4,-1.3l-3.3,-1.4l-3.3,-1.3l-3.4,-1.3l-3.3,-1.2l-3.3,-1.2l-3.4,-1l-3.3,-1l-3.4,-0.7l-3.4,-0.7l-3.3,-0.6l-3.4,-0.5l-3.3,-0.3l-3.2,-0.2l-3.6,0l-3.6,0.2l-3.4,0.4l-3.4,0.6l-3.5,0.8l-3.5,1.2l-3.7,1.5l-3.6,1.7l-3.4,1.8l-3.3,1.8l-2.9,1.9l-2.8,2l-2.6,2l-2.6,2.3l-2.5,2.5l-2.5,2.8l-2.4,3l-2.4,3.2l-2.3,3.4l-2.4,3.6l-1.7,2.7l-1.8,2.8l-1.7,2.9l-1.7,3.1l-1.7,3.1l-1.7,3.1l-1.7,3.3l-1.7,3.4l-1.6,3.5l-1.6,3.5l-1.7,3.7l-1.5,3.6l-1.6,3.7l-1.5,3.6l-1.6,3.6l-1.5,3.5l-1.4,3.6l-1.5,3.6l-1.4,3.6l-1.3,3.5l-1.3,3.6l-1.3,3.6l-1.2,3.5l-1.2,3.6l-1.1,3.6l-1.2,3.6l-1.1,3.5l-1.1,3.6l-1.1,3.6l-1.1,3.5l-1,3.6l-1.1,3.6l-1,3.6l-1.1,3.5l-1.1,3.6l-1.1,3.6l-1.2,3.5l-1.2,3.6l-1.2,3.6l-1.2,3.6l-1.1,3.5l-1.1,3.6l-1,3.4l-0.9,3l-0.8,3l-0.9,3.1l-0.9,3.5l-1.1,4.1l-1.3,4.9l-0.8,3l-0.9,3.3l-0.9,3.5l-1,3.7l-1,3.9l-1.1,4l-1.1,4.1l-1.1,4.1l-1.1,4.2l-1,4.1l-1.1,4.2l-1,4l-1,3.9l-1,3.8l-0.9,3.9l-1,3.8l-0.9,3.9l-0.9,3.8l-0.9,3.9l-1,3.8l-0.9,3.9l-0.9,3.8l-0.9,3.9l-0.9,3.8l-0.8,3.9l-0.9,3.8l-0.9,3.8l-0.8,3.9l-0.8,3.8l-0.9,3.9l-0.8,3.8l-0.8,3.9l-0.8,3.8l-0.8,3.9l-0.8,3.8l-0.8,3.9l-0.8,3.8l-0.8,3.9l-0.8,3.8l-0.8,3.8l-0.8,3.9l-0.8,3.8l-0.9,3.9l-0.8,3.8l-0.8,3.9l-0.8,3.8l-0.8,3.9l-0.8,3.8l-0.9,3.9l-0.8,3.8l-0.8,3.9l-0.8,3.8l-0.8,3.8l-0.8,3.9l-0.8,3.8l-0.9,3.9l-0.8,3.8l-0.8,3.9l-0.8,3.8l-0.8,3.9l-0.8,3.8l-0.9,3.9l-0.8,3.8l-0.8,3.9l-0.8,3.8l-0.9,3.8l-0.9,3.9l-0.8,3.8l-0.9,3.9l-0.9,3.8l-0.9,3.9l-0.9,3.8l-0.8,3.9l-0.9,3.8l-0.9,3.9l-0.8,3.8l-0.9,3.9l-0.8,3.8l-0.8,3.8l-0.8,3.8l-0.8,3.8l-0.7,3.8l-0.7,3.8l-0.8,3.8l-0.7,3.8l-0.8,3.8l-0.7,3.8l-0.8,3.9l-0.8,3.9l-0.8,4l-0.8,4l-0.8,3.6l-0.7,3.7l-0.9,3.9l-0.8,3.9l-0.9,4l-0.9,4l-0.8,4l-0.9,3.9l-0.9,3.9l-0.8,3.8l-0.8,3.7l-0.8,3.4l-0.7,3.3l-0.7,3.1l-0.6,2.8l-1.1,5.1l-0.9,4.2l-0.8,3.4l-0.6,3l-0.7,2.8l-0.6,3.1l-0.8,3.4l-0.8,3.4l-0.7,3.5l-0.8,3.7l-0.9,3.6l-0.8,3.6l-0.8,3.5l-0.7,3.2l-0.7,3l-1.1,4.1l-1,3.4l-0.9,3.2l-1,3.2l-1,3.6l-1,3.3l-1,3.5l-1,3.6l-1.1,3.6l-1.1,3.7l-1.1,3.5l-1.2,3.6l-1.2,3.6l-1.3,3.6l-1.3,3.5l-1.2,3.5l-1.3,3.5l-1.2,3.4l-1.3,3.5l-1.2,3.3l-1.3,3.4l-1.2,3.2l-1.3,3.2l-1.5,3.7l-1.4,3.6l-1.5,3.5l-1.5,3.4l-1.6,3.3l-1.7,3.2l-1.6,3.2l-1.8,3l-1.8,2.9l-1.8,2.7l-2.4,3.2l-2.4,2.9l-2.5,2.7l-2.7,2.4l-3,2.2l-3.1,2l-3.3,1.7l-3.1,1.7l-3.2,1.4l-3.1,1.4l-3.1,1.2l-3.1,1l-3.2,0.7l-3.1,0.4l-3.1,0.4l-3.1,0.3l-3.2,0.2l-3.1,0.1l-3.1,0.1l-3.1,0.2l-3.2,0.4l-3.1,0.5l-3.1,0.5l-3.1,0.5l-3.2,0.6l-3.1,0.6l-3.1,0.6l-3.1,0.7l-3.2,0.7l-3.1,0.8l-3.1,0.8l-3.1,0.9l-3.2,0.9l-3.1,1.1l-3.1,1.1l-3.2,1.2l-3.1,1.2l-3.1,1.3l-3.1,1.4l-3.2,1.8l-2.5,1.6l-2.5,1.9l-2.5,2.1l-2.4,2.1l-2.6,2.3l-2.5,2.3l-2.5,2.4l-2.5,2.6l-2.5,2.6l-2.5,2.5l-2.3,2.7l-2.2,2.7l-2.2,2.8l-2.3,2.6l-2.2,2.5l-2.8,2.8l-2.9,2.6l-2.8,2.5l-3,2.6l-2.4,2.2l-2.5,2.4l-2.6,2.3l-2.5,2.2l-2.5,2.1l-3,2.4l-2.9,2.2l-3,2.1l-3.6,2.1l-2.8,1.5l-3,1.6l-3.2,1.5l-3.3,1.5l-3.3,1.4l-3.2,1.3l-3.6,1.2l-3.5,1.1l-3.7,0.9l-3.7,0.9l-4.2,0.9l-3.2,0.6l-3.5,0.7l-3.6,0.6l-3.7,0.7l-3.7,0.6l-3.7,0.5l-3.6,0.6l-3.6,0.5l-3.5,0.6l-3.6,0.5l-3.6,0.4l-3.6,0.5l-3.5,0.3l-3.6,0.3l-3.6,0.3l-3.7,0.2l-3.7,0.1l-3.7,0l-3.6,0.1l-3.5,0l-3.2,0l-4.1,0l-3.8,-0.1l-3.7,-0.1l-3.5,-0.2l-3.7,-0.3l-3.8,-0.2l-3.9,-0.3l-3.9,-0.4l-3.7,-0.4l-3.4,-0.5l-3.9,-0.7l-3.5,-0.9l-3.1,-0.9l-2.6,-0.7l-3.3,-0.8l-1.6,-0.4z"/></g>
<g fill="#ff0000"><path d="M243.0,992.5l1,-1.1l2,-1.9l2.2,-2.1l2.6,-2.6l2.7,-2.2l2.5,-1.7l2.5,-1.3l2.5,-0.7l3.8,0.5l3.7,2l2.2,2l2,2.7l2.1,3.4l1.2,2.6l1.3,2.9l1.3,3.2l1.2,3.2l1.2,3.1l1.4,3.7l1.3,3.8l1.2,3.8l1.1,3.7l1,3.7l1,3.6l0.8,3.8l1,3.9l0.7,3.4l0.7,3.5l0.8,3.7l0.8,3.5l0.7,3.4l0.9,3.9l1,3.6l0.9,3.6l0.9,3.9l0.8,3.4l0.8,3.5l0.7,3.7l0.8,3.5l0.7,3.4l0.8,3.9l0.8,3.8l0.7,3.6l0.8,3.7l0.8,3.7l0.7,3.6l0.8,3.8l0.8,3.9l0.8,3.4l0.8,3.7l0.8,3.6l0.7,3.6l0.7,3.2l0.7,3.3l0.5,2.9l0.5,2.9l0.8,3.4l0.8,3.4l1,3.6l1,4l1.1,3.9l1.1,3.8l1.2,3.8l1.1,3.8l1.3,3.7l1.3,3.7l1.4,3.8l1.1,3.1l1.2,3.2l1.2,3.2l1.2,3.1l1.3,3.1l1.4,3.1l1.6,3l1.6,3l1.6,3l1.7,2.9l1.8,2.9l1.7,2.6l2.2,3.1l2.2,2.9l2.3,2.8l2.3,2.6l2.3,2.4l3,2.8l3.2,2.6l3.1,2.2l3.2,1.8l3.1,1.3l3.1,1l3.2,0.5l3.1,0.3l3.1,0l3.2,-0.4l3.1,-0.6l3.1,-0.9l3.1,-1.1l3.1,-1.5l3.1,-1.6l3.2,-2l2.7,-1.8l2.6,-2.1l2.8,-2.1l2.8,-2.3l2.8,-2.3l2.9,-2.4l2.8,-2.3l2.9,-2.5l3.1,-2.6l3.3,-2.8l2.7,-2.1l3,-2.3l3.1,-2.4l3.1,-2.5l3,-2.4l2.9,-2.3l2.5,-2.2l3,-2.8l2.6,-2.6l2.3,-2.4l2.2,-2.4l2.4,-2.3l2.5,-2.3l2.5,-2.2l2.5,-2.2l2.5,-2l2.5,-1.9l3.1,-2.2l3.2,-1.9l3.1,-1.8l3.1,-1.6l3.1,-1.4l3.1,-1.3l3.2,-1.2l3.1,-1.1l3.1,-1.2l3.2,-1.2l3.1,-1l3.1,-1l3.1,-0.8l3.1,-0.6l3.2,-0.6l3.1,-0.5l3.1,-0.4l3.2,-0.3l3.1,-0.3l3.1,-0.3l3.1,-0.2l3.1,-0.3l3.2,-0.1l3.1,0l3.1,0.3l3.2,0.5l3.1,0.5l3.1,0.6l3.1,0.6l3.1,0.6l3.2,0.7l3.1,0.6l3.1,0.7l3.2,0.7l3.1,0.6l3.1,0.5l3.1,0.3l3.1,0.2l3.2,0.1l3.1,0l3.1,0l3.2,0l3.1,-0.2l3.1,-0.4l3.1,-0.6l3.1,-0.8l3.2,-1l3.1,-1.3l3.1,-1.7l3.2,-2l3.1,-2.4l3.1,-2.7l2.5,-2.5l2.5,-2.8l2.5,-2.9l2.5,-3.3l2.5,-3.5l1.8,-2.7l1.8,-2.9l1.9,-3l1.8,-3.1l1.8,-3.2l1.7,-3.2l1.7,-3.1l1.6,-3.2l1.5,-3.2l1.4,-3.1l1.4,-3.3l1.4,-3.2l1.4,-3.3l1.3,-3.3l1.3,-3.3l1.4,-3.6l1.3,-3.5l1.2,-3.6l1.3,-3.4l1.1,-3.3l1.2,-3l1.3,-3.7l1.2,-3.1l1.1,-2.9l1.2,-3.2l1.4,-3.6l1.1,-3l1.2,-3.1l1.2,-3.3l1.3,-3.4l1.3,-3.5l1.4,-3.6l1.3,-3.6l1,-3l1.1,-2.9l1,-2.8l1,-3l1.1,-3.1l1.2,-3.5l1.3,-4.1l1.5,-4.6l0.9,-3l1,-3.2l1.1,-3.5l1.1,-3.6l1.2,-3.8l1.2,-4l1.2,-4l1.2,-4l1.2,-4.1l1.2,-4.1l1.2,-4.1l1.1,-4l1.1,-3.8l1.1,-3.8l1,-3.9l1,-4l1,-3.8l0.9,-3.9l0.9,-3.8l0.9,-3.9l0.9,-3.8l0.9,-3.8l0.9,-3.8l0.8,-3.8l0.9,-3.8l0.8,-3.9l0.9,-3.8l0.9,-3.8l0.8,-3.9l0.8,-3.8l0.8,-3.9l0.9,-3.8l0.8,-3.9l0.8,-3.8l0.8,-3.9l0.8,-3.8l0.8,-3.9l0.8,-3.8l0.8,-3.9l0.8,-3.8l0.9,-3.8l0.8,-3.9l0.9,-3.8l0.9,-3.9l0.8,-3.8l0.9,-3.9l0.9,-3.8l0.8,-3.9l0.9,-3.8l0.9,-3.9l0.9,-3.8l0.8,-3.9l0.9,-3.8l0.9,-3.8l0.8,-3.9l0.9,-3.8l0.9,-3.9l0.8,-3.8l0.9,-3.9l0.9,-3.8l0.9,-3.9l0.8,-3.8l0.9,-3.9l0.8,-3.8l0.9,-3.9l0.9,-3.8l0.8,-3.8l0.8,-3.9l0.9,-3.8l0.8,-3.9l0.8,-3.8l0.9,-3.9l0.8,-3.8l0.8,-3.9l0.8,-3.8l0.8,-3.9l0.9,-3.8l0.8,-3.9l0.8,-3.8l0.8,-3.8l0.8,-3.9l0.8,-3.8l0.8,-3.9l0.8,-3.8l0.8,-3.9l0.9,-3.8l0.8,-3.9l0.8,-3.8l0.8,-3.9l0.8,-3.8l0.8,-3.9l0.8,-3.8l0.8,-3.8l0.8,-3.9l0.8,-3.8l0.9,-3.9l0.8,-3.8l0.8,-3.9l0.8,-3.8l0.8,-3.9l0.9,-3.8l0.8,-3.9l0.9,-3.8l0.8,-3.9l0.9,-3.8l0.8,-3.8l0.9,-3.9l0.8,-3.8l0.9,-3.9l0.9,-3.8l0.9,-3.9l0.8,-3.8l0.9,-3.9l0.9,-3.8l0.9,-3.9l0.9,-3.8l0.9,-3.9l0.9,-3.8l1,-3.8l0.9,-3.9l0.9,-3.8l1,-3.9l0.9,-3.8l0.9,-3.9l1,-3.8l0.9,-3.9l1,-3.8l1,-3.9l1,-3.8l1,-3.9l1.1,-3.8l0.9,-3.6l1,-3.6l1.1,-3.6l1,-3.6l1.1,-3.7l1,-3.6l1.1,-3.6l1.1,-3.6l1.1,-3.6l1,-3.6l1.1,-3.5l1,-3.5l1.1,-3.5l1,-3.4l1.2,-4l1.2,-4.1l1.2,-4.1l1.3,-4.1l1.2,-4.1l1.2,-4l1.2,-3.9l1.1,-3.7l1.1,-3.6l1,-3.4l1,-3.1l0.9,-2.9l1.5,-4.7l1.1,-3.6l1,-3l0.9,-2.6l1.1,-2.8l1.4,-3.3l1.5,-3.3l1.6,-3.5l1.7,-3.6l1.8,-3.6l1.9,-3.7l2,-3.7l2,-3.6l1.8,-3.2l2,-3.2l2,-3.3l2,-3.3l2.1,-3.2l2.1,-3.1l2.1,-2.9l2.2,-2.8l2.4,-2.9l2.4,-2.8l2.5,-2.6l2.5,-2.4l2.5,-2.4l2.6,-2.2l2.5,-2.2l3.1,-2.4l3.1,-2.3l3.1,-2.1l3.2,-2l3.2,-1.9l3.1,-1.8l3.1,-1.6l3.1,-1.6l3.2,-1.4l3.1,-1.2l3.1,-1.2l3.2,-1.1l3.6,-1.1l3.5,-1l3.7,-0.9l3.8,-0.7l4.1,-0.7l3.3,-0.5l3.5,-0.4l3.6,-0.4l3.7,-0.3l3.8,-0.3l3.6,-0.3l3.5,-0.3l3.9,-0.3l3.8,-0.3l3.8,-0.3l3.7,-0.2l3.7,-0.1l3.6,-0.1l3.6,0.2l3.7,0.2l3.6,0.3l3.5,0.3l3.5,0.4l3.3,0.5l3.5,0.6l2.7,0.6l3,0.8l3.9,0.8l5.7,1l2.8,0.4l3.3,0.5l3.5,0.5l3.8,0.5l4.1,0.5l4.1,0.5l4.3,0.6l4.2,0.5l4.3,0.6l4.1,0.6l4,0.5l3.8,0.5l3.5,0.5l4.2,0.7l4.1,0.6l3.8,0.6l3.8,0.6l3.6,0.6l3.6,0.7l3.5,0.6l3.6,0.6l3.6,0.6l3.7,0.7l3.7,0.7l3.7,0.7l3.7,0.7l3.6,0.7l3.7,0.8l3.7,0.7l3.7,0.7l3.8,0.7l3.9,0.7l4,0.6l3.7,0.5l4,0.5l4,0.5l4.2,0.4l4.1,0.5l4.2,0.4l4,0.4l4,0.4l3.7,0.5l3.5,0.4l3.3,0.5l4.5,0.8l4,0.8l3.6,0.8l3.3,0.9l3.1,0.8l3.2,0.7l3.3,0.7l3.9,0.6l3.8,0.5l3.7,0.5l3.7,0.4l3.6,0.3l3.8,0.2l3.8,0l3.8,-0.2l3.9,-0.2l3.8,-0.2l3.7,-0.1l3.4,0.2l3.8,0.4l3.5,0.7l3.3,0.9l3.4,1l3.5,1.2l3.2,1.2l3.1,1.5l3.3,1.6l3.3,1.6l3.5,1.5l3.6,1.4l3.3,1l3.4,1l3.4,0.9l3.6,0.8l3.7,0.9l3.7,0.8l3.9,0.8l3.5,0.7l3.5,0.6l3.6,0.7l3.6,0.6l3.8,0.6l3.9,0.6l4,0.6l4.1,0.6l3.4,0.5l3.6,0.5l3.7,0.6l3.8,0.5l3.8,0.5l3.8,0.5l3.9,0.5l3.9,0.5l3.8,0.5l3.8,0.4l3.8,0.4l3.8,0.4l3.8,0.3l3.8,0.3l3.8,0.4l3.8,0.3l3.8,0.2l3.7,0.3l3.6,0.3l3.6,0.4l3.9,0.3l3.9,0.3l3.9,0.2l3.9,0.3l3.7,0.3l3.6,0.3l3.4,0.4l3.2,0.4l2.9,0.4l4.6,1.2l3.8,1.3l3.2,1.4l3,1.3l2.9,1.1l3.5,1l3.1,0.8l2.9,0.6l3,0.1l3.1,-0.4l3,-1l3.1,-1l3.3,-0.9l3.5,-0.6l3.6,-0.7l3.8,-0.4l4.1,0l3,0.3l3,0.5l3.2,0.7l3.4,0.8l3.6,0.8l3.8,0.6l3.8,0.6l4.3,0.6l4.6,0.6l4.5,0.6l4.2,0.6l3.5,0.5l2.6,0.3l47.7,6.4l26,2.4l17,0.6l5,-23l6,-30l6,-24l6,-14l14,4l40,11l40,9l40,9l40,9l45,8l0,11l-45,-8l-40,-9l-40,-9l-40,-9l-40,-11l-14,-4l-6,14l-6,24l-6,30l-5,23l-17,-0.6l-26,-2.4l-47.7,-6.4l-2.6,-0.3l-3.5,-0.5l-4.2,-0.6l-4.5,-0.6l-4.6,-0.6l-4.3,-0.6l-3.8,-0.6l-3.8,-0.6l-3.6,-0.8l-3.4,-0.8l-3.2,-0.7l-3,-0.5l-3,-0.3l-4.1,0l-3.8,0.4l-3.6,0.7l-3.5,0.6l-3.3,0.9l-3.1,1l-3,1l-3.1,0.4l-3,-0.1l-2.9,-0.6l-3.1,-0.8l-3.5,-1l-2.9,-1.1l-3,-1.3l-3.2,-1.4l-3.8,-1.3l-4.6,-1.2l-2.9,-0.4l-3.2,-0.4l-3.4,-0.4l-3.6,-0.3l-3.7,-0.3l-3.9,-0.3l-3.9,-0.2l-3.9,-0.3l-3.9,-0.3l-3.6,-0.4l-3.6,-0.3l-3.7,-0.3l-3.8,-0.2l-3.8,-0.3l-3.8,-0.4l-3.8,-0.3l-3.8,-0.3l-3.8,-0.4l-3.8,-0.4l-3.8,-0.4l-3.8,-0.5l-3.9,-0.5l-3.9,-0.5l-3.8,-0.5l-3.8,-0.5l-3.8,-0.5l-3.7,-0.6l-3.6,-0.5l-3.4,-0.5l-4.1,-0.6l-4,-0.6l-3.9,-0.6l-3.8,-0.6l-3.6,-0.6l-3.6,-0.7l-3.5,-0.6l-3.5,-0.7l-3.9,-0.8l-3.7,-0.8l-3.7,-0.9l-3.6,-0.8l-3.4,-0.9l-3.4,-1l-3.3,-1l-3.6,-1.4l-3.5,-1.5l-3.3,-1.6l-3.3,-1.6l-3.1,-1.5l-3.2,-1.2l-3.5,-1.2l-3.4,-1l-3.3,-0.9l-3.5,-0.7l-3.8,-0.4l-3.4,-0.2l-3.7,0.1l-3.8,0.2l-3.9,0.2l-3.8,0.2l-3.8,0l-3.8,-0.2l-3.6,-0.3l-3.7,-0.4l-3.7,-0.5l-3.8,-0.5l-3.9,-0.6l-3.3,-0.7l-3.2,-0.7l-3.1,-0.8l-3.3,-0.9l-3.6,-0.8l-4,-0.8l-4.5,-0.8l-3.3,-0.5l-3.5,-0.4l-3.7,-0.5l-4,-0.4l-4,-0.4l-4.2,-0.4l-4.1,-0.5l-4.2,-0.4l-4,-0.5l-4,-0.5l-3.7,-0.5l-4,-0.6l-3.9,-0.7l-3.8,-0.7l-3.7,-0.7l-3.7,-0.7l-3.7,-0.8l-3.6,-0.7l-3.7,-0.7l-3.7,-0.7l-3.7,-0.7l-3.7,-0.7l-3.6,-0.6l-3.6,-0.6l-3.5,-0.6l-3.6,-0.7l-3.6,-0.6l-3.8,-0.6l-3.8,-0.6l-4.1,-0.6l-4.2,-0.7l-3.5,-0.5l-3.8,-0.5l-4,-0.5l-4.1,-0.6l-4.3,-0.6l-4.2,-0.5l-4.3,-0.6l-4.1,-0.5l-4.1,-0.5l-3.8,-0.5l-3.5,-0.5l-3.3,-0.5l-2.8,-0.4l-5.7,-1l-3.9,-0.8l-3,-0.8l-2.7,-0.6l-3.5,-0.6l-3.3,-0.5l-3.5,-0.4l-3.5,-0.3l-3.6,-0.3l-3.7,-0.2l-3.6,-0.2l-3.6,0.1l-3.7,0.1l-3.7,0.2l-3.8,0.3l-3.8,0.3l-3.9,0.3l-3.5,0.3l-3.6,0.3l-3.8,0.3l-3.7,0.3l-3.6,0.4l-3.5,0.4l-3.3,0.5l-4.1,0.7l-3.8,0.7l-3.7,0.9l-3.5,1l-3.6,1.1l-3.2,1.1l-3.1,1.2l-3.1,1.2l-3.2,1.4l-3.1,1.6l-3.1,1.6l-3.1,1.8l-3.2,1.9l-3.2,2l-3.1,2.1l-3.1,2.3l-3.1,2.4l-2.5,2.2l-2.6,2.2l-2.5,2.4l-2.5,2.4l-2.5,2.6l-2.4,2.8l-2.4,2.9l-2.2,2.8l-2.1,2.9l-2.1,3.1l-2.1,3.2l-2,3.3l-2,3.3l-2,3.2l-1.8,3.2l-2,3.6l-2,3.7l-1.9,3.7l-1.8,3.6l-1.7,3.6l-1.6,3.5l-1.5,3.3l-1.4,3.3l-1.1,2.8l-0.9,2.6l-1,3l-1.1,3.6l-1.5,4.7l-0.9,2.9l-1,3.1l-1,3.4l-1.1,3.6l-1.1,3.7l-1.2,3.9l-1.2,4l-1.2,4.1l-1.3,4.1l-1.2,4.1l-1.2,4.1l-1.2,4l-1,3.4l-1.1,3.5l-1,3.5l-1.1,3.5l-1,3.6l-1.1,3.6l-1.1,3.6l-1.1,3.6l-1,3.6l-1.1,3.7l-1,3.6l-1.1,3.6l-1,3.6l-0.9,3.6l-1.1,3.8l-1,3.9l-1,3.8l-1,3.9l-1,3.8l-0.9,3.9l-1,3.8l-0.9,3.9l-0.9,3.8l-1,3.9l-0.9,3.8l-0.9,3.9l-1,3.8l-0.9,3.8l-0.9,3.9l-0.9,3.8l-0.9,3.9l-0.9,3.8l-0.9,3.9l-0.8,3.8l-0.9,3.9l-0.9,3.8l-0.9,3.9l-0.8,3.8l-0.9,3.9l-0.8,3.8l-0.9,3.8l-0.8,3.9l-0.9,3.8l-0.8,3.9l-0.9,3.8l-0.8,3.9l-0.8,3.8l-0.8,3.9l-0.8,3.8l-0.9,3.9l-0.8,3.8l-0.8,3.9l-0.8,3.8l-0.8,3.8l-0.8,3.9l-0.8,3.8l-0.8,3.9l-0.8,3.8l-0.8,3.9l-0.9,3.8l-0.8,3.9l-0.8,3.8l-0.8,3.9l-0.8,3.8l-0.8,3.9l-0.8,3.8l-0.8,3.8l-0.8,3.9l-0.9,3.8l-0.8,3.9l-0.8,3.8l-0.8,3.9l-0.8,3.8l-0.9,3.9l-0.8,3.8l-0.8,3.9l-0.9,3.8l-0.8,3.9l-0.8,3.8l-0.9,3.8l-0.9,3.9l-0.8,3.8l-0.9,3.9l-0.8,3.8l-0.9,3.9l-0.9,3.8l-0.9,3.9l-0.8,3.8l-0.9,3.9l-0.9,3.8l-0.8,3.9l-0.9,3.8l-0.9,3.8l-0.8,3.9l-0.9,3.8l-0.9,3.9l-0.9,3.8l-0.8,3.9l-0.9,3.8l-0.9,3.9l-0.8,3.8l-0.9,3.9l-0.9,3.8l-0.8,3.9l-0.9,3.8l-0.8,3.8l-0.8,3.9l-0.8,3.8l-0.8,3.9l-0.8,3.8l-0.8,3.9l-0.8,3.8l-0.8,3.9l-0.9,3.8l-0.8,3.9l-0.8,3.8l-0.8,3.9l-0.9,3.8l-0.9,3.8l-0.8,3.9l-0.9,3.8l-0.8,3.8l-0.9,3.8l-0.9,3.8l-0.9,3.8l-0.9,3.9l-0.9,3.8l-0.9,3.9l-1,3.8l-1,4l-1,3.9l-1.1,3.8l-1.1,3.8l-1.1,4l-1.2,4.1l-1.2,4.1l-1.2,4.1l-1.2,4l-1.2,4l-1.2,4l-1.2,3.8l-1.1,3.6l-1.1,3.5l-1,3.2l-0.9,3l-1.5,4.6l-1.3,4.1l-1.2,3.5l-1.1,3.1l-1,3l-1,2.8l-1.1,2.9l-1,3l-1.3,3.6l-1.4,3.6l-1.3,3.5l-1.3,3.4l-1.2,3.3l-1.2,3.1l-1.1,3l-1.4,3.6l-1.2,3.2l-1.1,2.9l-1.2,3.1l-1.3,3.7l-1.2,3l-1.1,3.3l-1.3,3.4l-1.2,3.6l-1.3,3.5l-1.4,3.6l-1.3,3.3l-1.3,3.3l-1.4,3.3l-1.4,3.2l-1.4,3.3l-1.4,3.1l-1.5,3.2l-1.6,3.2l-1.7,3.1l-1.7,3.2l-1.8,3.2l-1.8,3.1l-1.9,3l-1.8,2.9l-1.8,2.7l-2.5,3.5l-2.5,3.3l-2.5,2.9l-2.5,2.8l-2.5,2.5l-3.1,2.7l-3.1,2.4l-3.2,2l-3.1,1.7l-3.1,1.3l-3.2,1l-3.1,0.8l-3.1,0.6l-3.1,0.4l-3.1,0.2l-3.2,0l-3.1,0l-3.1,0l-3.2,-0.1l-3.1,-0.2l-3.1,-0.3l-3.1,-0.5l-3.1,-0.6l-3.2,-0.7l-3.1,-0.7l-3.1,-0.6l-3.2,-0.7l-3.1,-0.6l-3.1,-0.6l-3.1,-0.6l-3.1,-0.5l-3.2,-0.5l-3.1,-0.3l-3.1,0l-3.2,0.1l-3.1,0.3l-3.1,0.2l-3.1,0.3l-3.1,0.3l-3.2,0.3l-3.1,0.4l-3.1,0.5l-3.2,0.6l-3.1,0.6l-3.1,0.8l-3.1,1l-3.1,1l-3.2,1.2l-3.1,1.2l-3.1,1.1l-3.2,1.2l-3.1,1.3l-3.1,1.4l-3.1,1.6l-3.1,1.8l-3.2,1.9l-3.1,2.2l-2.5,1.9l-2.5,2l-2.5,2.2l-2.5,2.2l-2.5,2.3l-2.4,2.3l-2.2,2.4l-2.3,2.4l-2.6,2.6l-3,2.8l-2.5,2.2l-2.9,2.3l-3,2.4l-3.1,2.5l-3.1,2.4l-3,2.3l-2.7,2.1l-3.3,2.8l-3.1,2.6l-2.9,2.5l-2.8,2.3l-2.9,2.4l-2.8,2.3l-2.8,2.3l-2.8,2.1l-2.6,2.1l-2.7,1.8l-3.2,2l-3.1,1.6l-3.1,1.5l-3.1,1.1l-3.1,0.9l-3.1,0.6l-3.2,0.4l-3.1,0l-3.1,-0.3l-3.2,-0.5l-3.1,-1l-3.1,-1.3l-3.2,-1.8l-3.1,-2.2l-3.2,-2.6l-3,-2.8l-2.3,-2.4l-2.3,-2.6l-2.3,-2.8l-2.2,-2.9l-2.2,-3.1l-1.7,-2.6l-1.8,-2.9l-1.7,-2.9l-1.6,-3l-1.6,-3l-1.6,-3l-1.4,-3.1l-1.3,-3.1l-1.2,-3.1l-1.2,-3.2l-1.2,-3.2l-1.1,-3.1l-1.4,-3.8l-1.3,-3.7l-1.3,-3.7l-1.1,-3.8l-1.2,-3.8l-1.1,-3.8l-1.1,-3.9l-1,-4l-1,-3.6l-0.8,-3.4l-0.8,-3.4l-0.5,-2.9l-0.5,-2.9l-0.7,-3.3l-0.7,-3.2l-0.7,-3.6l-0.8,-3.6l-0.8,-3.7l-0.8,-3.4l-0.8,-3.9l-0.8,-3.8l-0.7,-3.6l-0.8,-3.7l-0.8,-3.7l-0.7,-3.6l-0.8,-3.8l-0.8,-3.9l-0.7,-3.4l-0.8,-3.5l-0.7,-3.7l-0.8,-3.5l-0.8,-3.4l-0.9,-3.9l-0.9,-3.6l-1,-3.6l-0.9,-3.9l-0.7,-3.4l-0.8,-3.5l-0.8,-3.7l-0.7,-3.5l-0.7,-3.4l-1,-3.9l-0.8,-3.8l-1,-3.6l-1,-3.7l-1.1,-3.7l-1.2,-3.8l-1.3,-3.8l-1.4,-3.7l-1.2,-3.1l-1.2,-3.2l-1.3,-3.2l-1.3,-2.9l-1.2,-2.6l-2.1,-3.4l-2,-2.7l-2.2,-2l-3.7,-2l-3.8,-0.5l-2.5,0.7l-2.5,1.3l-2.5,1.7l-2.7,2.2l-2.6,2.6l-2.2,2.1l-2,1.9l-1,1.1z"/><path d="M237.8,998.0l1,-1.1l2,-1.9l2.2,-2.1l2.6,-2.6l2.7,-2.2l2.5,-1.7l2.5,-1.3l2.5,-0.7l3.8,0.5l3.7,2l2.2,2l2,2.7l2.1,3.4l1.2,2.6l1.3,2.9l1.3,3.2l1.2,3.2l1.2,3.1l1.4,3.8l1.3,3.7l1.2,3.7l1.1,3.8l1,3.7l1,3.6l0.8,3.8l1,3.9l0.7,3.4l0.8,3.5l0.7,3.7l0.8,3.5l0.7,3.4l0.9,3.9l1,3.6l0.9,3.6l1,3.9l0.7,3.4l0.8,3.5l0.7,3.7l0.8,3.5l0.7,3.4l0.8,3.9l0.8,3.8l0.7,3.6l0.8,3.7l0.8,3.7l0.7,3.6l0.8,3.8l0.9,3.9l0.7,3.4l0.8,3.7l0.8,3.6l0.7,3.6l0.7,3.2l0.7,3.3l0.5,2.9l0.5,2.9l0.8,3.4l0.8,3.4l1,3.6l1,4l1.1,3.9l1.1,3.9l1.2,3.7l1.1,3.7l1.3,3.8l1.3,3.8l1.4,3.7l1.1,3.1l1.2,3.2l1.2,3.2l1.2,3.1l1.3,3.1l1.5,3l1.5,3.1l1.6,3l1.6,3l1.7,2.9l1.8,2.9l1.8,2.7l2.1,3l2.2,2.9l2.3,2.8l2.3,2.6l2.3,2.4l3,2.8l3.2,2.6l3.1,2.2l3.2,1.8l3.1,1.3l3.2,1l3.1,0.5l3.1,0.3l3.1,0l3.2,-0.4l3.1,-0.6l3.1,-0.9l3.1,-1.1l3.1,-1.5l3.1,-1.6l3.2,-2l2.7,-1.8l2.6,-2.1l2.8,-2.1l2.8,-2.3l2.9,-2.4l2.8,-2.3l2.8,-2.3l2.9,-2.5l3.1,-2.6l3.4,-2.7l2.6,-2.2l3,-2.3l3.1,-2.4l3.1,-2.5l3,-2.4l2.9,-2.3l2.5,-2.2l3,-2.8l2.6,-2.6l2.3,-2.4l2.2,-2.4l2.4,-2.3l2.5,-2.3l2.5,-2.2l2.5,-2.2l2.5,-2l2.5,-1.9l3.1,-2.2l3.2,-1.9l3.1,-1.8l3.1,-1.6l3.1,-1.4l3.2,-1.3l3.1,-1.2l3.1,-1.1l3.1,-1.2l3.2,-1.2l3.1,-1l3.1,-1l3.1,-0.8l3.1,-0.6l3.2,-0.6l3.1,-0.5l3.1,-0.4l3.1,-0.3l3.2,-0.3l3.1,-0.2l3.1,-0.3l3.1,-0.3l3.2,-0.1l3.1,0l3.1,0.3l3.1,0.5l3.2,0.5l3.1,0.6l3.1,0.6l3.1,0.6l3.2,0.7l3.1,0.6l3.1,0.7l3.1,0.7l3.2,0.6l3.1,0.5l3.1,0.3l3.1,0.2l3.2,0.1l3.1,0l3.1,0l3.1,0l3.2,-0.2l3.1,-0.4l3.1,-0.6l3.1,-0.8l3.2,-1l3.1,-1.4l3.1,-1.6l3.1,-2l3.2,-2.4l3.1,-2.7l2.5,-2.5l2.5,-2.8l2.5,-2.9l2.5,-3.3l2.5,-3.5l1.8,-2.7l1.8,-2.9l1.9,-3l1.8,-3.1l1.8,-3.2l1.7,-3.2l1.7,-3.2l1.6,-3.1l1.5,-3.2l1.4,-3.1l1.4,-3.3l1.4,-3.2l1.4,-3.3l1.3,-3.2l1.3,-3.4l1.4,-3.6l1.3,-3.5l1.2,-3.6l1.3,-3.4l1.1,-3.3l1.1,-3l1.4,-3.7l1.2,-3.1l1.1,-2.9l1.2,-3.2l1.4,-3.6l1.1,-3l1.2,-3.1l1.2,-3.3l1.3,-3.4l1.3,-3.5l1.4,-3.6l1.2,-3.6l1.1,-3l1.1,-2.9l1,-2.8l1,-3l1.1,-3.1l1.2,-3.5l1.3,-4.1l1.5,-4.6l0.9,-3l1,-3.2l1.1,-3.5l1.1,-3.6l1.2,-3.8l1.2,-4l1.2,-4l1.2,-4l1.2,-4.1l1.2,-4.1l1.2,-4.1l1.1,-4l1.1,-3.8l1,-3.8l1.1,-3.9l1,-4l1,-3.8l0.9,-3.9l0.9,-3.8l0.9,-3.9l0.9,-3.8l0.9,-3.8l0.9,-3.8l0.8,-3.8l0.9,-3.8l0.8,-3.9l0.9,-3.8l0.9,-3.8l0.8,-3.9l0.8,-3.8l0.8,-3.9l0.9,-3.8l0.8,-3.9l0.8,-3.8l0.8,-3.9l0.8,-3.8l0.8,-3.9l0.8,-3.8l0.8,-3.9l0.8,-3.8l0.9,-3.8l0.8,-3.9l0.9,-3.8l0.9,-3.9l0.8,-3.8l0.9,-3.9l0.9,-3.8l0.8,-3.9l0.9,-3.8l0.9,-3.9l0.9,-3.8l0.8,-3.9l0.9,-3.8l0.9,-3.8l0.8,-3.9l0.9,-3.8l0.9,-3.9l0.8,-3.8l0.9,-3.9l0.9,-3.8l0.9,-3.9l0.8,-3.8l0.9,-3.9l0.8,-3.8l0.9,-3.9l0.8,-3.8l0.9,-3.8l0.8,-3.9l0.9,-3.8l0.8,-3.9l0.8,-3.8l0.9,-3.9l0.8,-3.8l0.8,-3.9l0.8,-3.8l0.8,-3.9l0.9,-3.8l0.8,-3.9l0.8,-3.8l0.8,-3.8l0.8,-3.9l0.8,-3.8l0.8,-3.9l0.8,-3.8l0.8,-3.9l0.9,-3.8l0.8,-3.9l0.8,-3.8l0.8,-3.9l0.8,-3.8l0.8,-3.9l0.8,-3.8l0.8,-3.8l0.8,-3.9l0.8,-3.8l0.9,-3.9l0.8,-3.8l0.8,-3.9l0.8,-3.8l0.8,-3.9l0.9,-3.8l0.8,-3.9l0.9,-3.8l0.8,-3.9l0.8,-3.8l0.9,-3.8l0.9,-3.9l0.8,-3.8l0.9,-3.9l0.9,-3.8l0.9,-3.9l0.8,-3.8l0.9,-3.9l0.9,-3.8l0.9,-3.9l0.9,-3.8l0.9,-3.9l0.9,-3.8l1,-3.8l0.9,-3.9l0.9,-3.8l1,-3.9l0.9,-3.8l0.9,-3.9l1,-3.8l0.9,-3.9l1,-3.8l1,-3.9l1,-3.8l1,-3.9l1,-3.8l1,-3.6l1,-3.6l1.1,-3.6l1,-3.6l1.1,-3.7l1,-3.6l1.1,-3.6l1.1,-3.6l1.1,-3.6l1,-3.6l1.1,-3.5l1,-3.5l1.1,-3.5l1,-3.4l1.2,-4l1.2,-4.1l1.2,-4.1l1.3,-4.1l1.2,-4.1l1.2,-4l1.2,-3.9l1.1,-3.7l1.1,-3.6l1,-3.4l1,-3.1l0.9,-2.9l1.5,-4.7l1.1,-3.6l1,-2.9l0.9,-2.7l1.1,-2.8l1.4,-3.3l1.5,-3.3l1.6,-3.5l1.7,-3.6l1.8,-3.6l1.9,-3.7l2,-3.7l2,-3.6l1.8,-3.2l2,-3.2l2,-3.3l2,-3.3l2.1,-3.2l2.1,-3.1l2.1,-2.9l2.1,-2.8l2.5,-2.9l2.4,-2.8l2.5,-2.6l2.5,-2.4l2.5,-2.4l2.6,-2.2l2.5,-2.2l3.1,-2.4l3.1,-2.3l3.1,-2.1l3.2,-2l3.2,-1.9l3.1,-1.8l3.1,-1.6l3.1,-1.6l3.2,-1.4l3.1,-1.2l3.1,-1.2l3.1,-1.1l3.7,-1.1l3.5,-1l3.7,-0.9l3.7,-0.7l4.2,-0.7l3.3,-0.5l3.5,-0.4l3.6,-0.4l3.7,-0.3l3.8,-0.3l3.6,-0.3l3.5,-0.3l3.9,-0.3l3.8,-0.3l3.8,-0.3l3.7,-0.2l3.7,-0.1l3.6,0l3.6,0.1l3.7,0.2l3.6,0.3l3.5,0.3l3.5,0.4l3.3,0.5l3.5,0.6l2.7,0.6l3,0.8l3.9,0.8l5.7,1l2.8,0.4l3.3,0.5l3.5,0.5l3.8,0.5l4.1,0.5l4.1,0.5l4.3,0.6l4.2,0.5l4.3,0.6l4.1,0.6l4,0.5l3.8,0.5l3.5,0.5l4.2,0.7l4.1,0.6l3.8,0.6l3.8,0.6l3.6,0.6l3.6,0.7l3.5,0.6l3.6,0.6l3.6,0.6l3.7,0.7l3.7,0.7l3.7,0.7l3.7,0.7l3.6,0.7l3.7,0.8l3.7,0.7l3.7,0.7l3.8,0.7l3.9,0.7l4,0.6l3.7,0.5l4,0.5l4,0.5l4.2,0.4l4.1,0.5l4.2,0.4l4,0.4l4,0.4l3.7,0.5l3.5,0.4l3.3,0.5l4.5,0.8l4,0.8l3.6,0.8l3.3,0.9l3.1,0.8l3.2,0.7l3.3,0.7l3.9,0.6l3.8,0.5l3.7,0.5l3.7,0.4l3.6,0.3l3.8,0.2l3.8,0l3.8,-0.2l3.9,-0.2l3.8,-0.2l3.7,-0.1l3.4,0.2l3.8,0.4l3.5,0.7l3.3,0.9l3.4,1l3.5,1.2l3.2,1.2l3.1,1.5l3.3,1.6l3.3,1.6l3.5,1.5l3.6,1.4l3.3,1l3.4,1l3.4,0.9l3.6,0.8l3.7,0.9l3.7,0.8l3.9,0.8l3.5,0.7l3.5,0.6l3.6,0.7l3.6,0.6l3.8,0.6l3.9,0.6l4,0.6l4.1,0.6l3.4,0.5l3.6,0.5l3.7,0.6l3.8,0.5l3.8,0.5l3.8,0.5l3.9,0.5l3.9,0.5l3.8,0.5l3.8,0.4l3.8,0.4l3.8,0.4l3.8,0.3l3.8,0.3l3.8,0.4l3.8,0.3l3.8,0.2l3.7,0.3l3.6,0.3l3.6,0.4l3.9,0.3l3.9,0.3l3.9,0.2l3.9,0.3l3.7,0.3l3.6,0.3l3.4,0.4l3.2,0.4l2.9,0.4l4.6,1.2l3.8,1.3l3.2,1.4l3,1.3l2.9,1.1l3.5,1l3.1,0.8l2.9,0.6l3,0.1l3.1,-0.4l3,-1l3.1,-1l3.3,-0.9l3.5,-0.6l3.6,-0.7l3.8,-0.4l4.1,0l3,0.3l3,0.5l3.2,0.7l3.4,0.8l3.6,0.8l3.8,0.6l3.8,0.6l4.3,0.6l4.6,0.6l4.5,0.6l4.2,0.6l3.5,0.5l2.6,0.3l47.7,6.4l26,2.4l17,0.6l5,-23l6,-30l6,-24l6,-14l14,4l40,11l40,9l40,9l40,9l45,8l10.4,0l-45,-8l-40,-9l-40,-9l-40,-9l-40,-11l-14,-4l-6,14l-6,24l-6,30l-5,23l-17,-0.6l-26,-2.4l-47.7,-6.4l-2.6,-0.3l-3.5,-0.5l-4.2,-0.6l-4.5,-0.6l-4.6,-0.6l-4.3,-0.6l-3.8,-0.6l-3.8,-0.6l-3.6,-0.8l-3.4,-0.8l-3.2,-0.7l-3,-0.5l-3,-0.3l-4.1,0l-3.8,0.4l-3.6,0.7l-3.5,0.6l-3.3,0.9l-3.1,1l-3,1l-3.1,0.4l-3,-0.1l-2.9,-0.6l-3.1,-0.8l-3.5,-1l-2.9,-1.1l-3,-1.3l-3.2,-1.4l-3.8,-1.3l-4.6,-1.2l-2.9,-0.4l-3.2,-0.4l-3.4,-0.4l-3.6,-0.3l-3.7,-0.3l-3.9,-0.3l-3.9,-0.2l-3.9,-0.3l-3.9,-0.3l-3.6,-0.4l-3.6,-0.3l-3.7,-0.3l-3.8,-0.2l-3.8,-0.3l-3.8,-0.4l-3.8,-0.3l-3.8,-0.3l-3.8,-0.4l-3.8,-0.4l-3.8,-0.4l-3.8,-0.5l-3.9,-0.5l-3.9,-0.5l-3.8,-0.5l-3.8,-0.5l-3.8,-0.5l-3.7,-0.6l-3.6,-0.5l-3.4,-0.5l-4.1,-0.6l-4,-0.6l-3.9,-0.6l-3.8,-0.6l-3.6,-0.6l-3.6,-0.7l-3.5,-0.6l-3.5,-0.7l-3.9,-0.8l-3.7,-0.8l-3.7,-0.9l-3.6,-0.8l-3.4,-0.9l-3.4,-1l-3.3,-1l-3.6,-1.4l-3.5,-1.5l-3.3,-1.6l-3.3,-1.6l-3.1,-1.5l-3.2,-1.2l-3.5,-1.2l-3.4,-1l-3.3,-0.9l-3.5,-0.7l-3.8,-0.4l-3.4,-0.2l-3.7,0.1l-3.8,0.2l-3.9,0.2l-3.8,0.2l-3.8,0l-3.8,-0.2l-3.6,-0.3l-3.7,-0.4l-3.7,-0.5l-3.8,-0.5l-3.9,-0.6l-3.3,-0.7l-3.2,-0.7l-3.1,-0.8l-3.3,-0.9l-3.6,-0.8l-4,-0.8l-4.5,-0.8l-3.3,-0.5l-3.5,-0.4l-3.7,-0.5l-4,-0.4l-4,-0.4l-4.2,-0.4l-4.1,-0.5l-4.2,-0.4l-4,-0.5l-4,-0.5l-3.7,-0.5l-4,-0.6l-3.9,-0.7l-3.8,-0.7l-3.7,-0.7l-3.7,-0.7l-3.7,-0.8l-3.6,-0.7l-3.7,-0.7l-3.7,-0.7l-3.7,-0.7l-3.7,-0.7l-3.6,-0.6l-3.6,-0.6l-3.5,-0.6l-3.6,-0.7l-3.6,-0.6l-3.8,-0.6l-3.8,-0.6l-4.1,-0.6l-4.2,-0.7l-3.5,-0.5l-3.8,-0.5l-4,-0.5l-4.1,-0.6l-4.3,-0.6l-4.2,-0.5l-4.3,-0.6l-4.1,-0.5l-4.1,-0.5l-3.8,-0.5l-3.5,-0.5l-3.3,-0.5l-2.8,-0.4l-5.7,-1l-3.9,-0.8l-3,-0.8l-2.7,-0.6l-3.4,-0.6l-3.4,-0.5l-3.5,-0.4l-3.5,-0.3l-3.6,-0.3l-3.7,-0.2l-3.6,-0.1l-3.6,0l-3.7,0.1l-3.7,0.2l-3.8,0.3l-3.8,0.3l-3.9,0.3l-3.5,0.3l-3.6,0.3l-3.8,0.3l-3.7,0.3l-3.6,0.4l-3.5,0.4l-3.3,0.5l-4.1,0.7l-3.8,0.7l-3.7,0.9l-3.5,1l-3.6,1.1l-3.2,1.1l-3.1,1.2l-3.1,1.2l-3.1,1.4l-3.2,1.6l-3.1,1.6l-3.1,1.8l-3.2,1.9l-3.2,2l-3.1,2.1l-3.1,2.3l-3,2.4l-2.6,2.2l-2.6,2.2l-2.5,2.4l-2.5,2.4l-2.5,2.6l-2.4,2.8l-2.4,2.9l-2.2,2.8l-2.1,2.9l-2.1,3.1l-2.1,3.2l-2,3.3l-2,3.3l-2,3.2l-1.8,3.2l-2,3.6l-2,3.7l-1.9,3.7l-1.8,3.6l-1.7,3.6l-1.6,3.5l-1.5,3.3l-1.4,3.3l-1.1,2.8l-0.9,2.7l-1,2.9l-1.1,3.6l-1.5,4.7l-0.9,2.9l-1,3.1l-1,3.4l-1.1,3.6l-1.1,3.7l-1.2,3.9l-1.2,4l-1.2,4.1l-1.3,4.1l-1.2,4.1l-1.2,4.1l-1.2,4l-1,3.4l-1.1,3.5l-1,3.5l-1.1,3.5l-1,3.6l-1.1,3.6l-1.1,3.6l-1.1,3.6l-1,3.6l-1.1,3.7l-1,3.6l-1.1,3.6l-1,3.6l-0.9,3.6l-1.1,3.8l-1,3.9l-1,3.8l-1,3.9l-1,3.8l-0.9,3.9l-1,3.8l-0.9,3.9l-0.9,3.8l-1,3.9l-0.9,3.8l-0.9,3.9l-0.9,3.8l-1,3.8l-0.9,3.9l-0.9,3.8l-0.9,3.9l-0.9,3.8l-0.9,3.9l-0.8,3.8l-0.9,3.9l-0.9,3.8l-0.9,3.9l-0.8,3.8l-0.9,3.9l-0.8,3.8l-0.9,3.8l-0.8,3.9l-0.9,3.8l-0.8,3.9l-0.9,3.8l-0.8,3.9l-0.8,3.8l-0.8,3.9l-0.8,3.8l-0.9,3.9l-0.8,3.8l-0.8,3.9l-0.8,3.8l-0.8,3.8l-0.8,3.9l-0.8,3.8l-0.8,3.9l-0.8,3.8l-0.8,3.9l-0.9,3.8l-0.8,3.9l-0.8,3.8l-0.8,3.9l-0.8,3.8l-0.8,3.9l-0.8,3.8l-0.8,3.8l-0.8,3.9l-0.9,3.8l-0.8,3.9l-0.8,3.8l-0.8,3.9l-0.8,3.8l-0.9,3.9l-0.8,3.8l-0.8,3.9l-0.9,3.8l-0.8,3.9l-0.8,3.8l-0.9,3.8l-0.9,3.9l-0.8,3.8l-0.9,3.9l-0.8,3.8l-0.9,3.9l-0.9,3.8l-0.9,3.9l-0.8,3.8l-0.9,3.9l-0.9,3.8l-0.8,3.9l-0.9,3.8l-0.9,3.8l-0.8,3.9l-0.9,3.8l-0.9,3.9l-0.9,3.8l-0.8,3.9l-0.9,3.8l-0.9,3.9l-0.8,3.8l-0.9,3.9l-0.9,3.8l-0.8,3.9l-0.8,3.8l-0.9,3.8l-0.8,3.9l-0.8,3.8l-0.8,3.9l-0.8,3.8l-0.8,3.9l-0.8,3.8l-0.8,3.9l-0.9,3.8l-0.8,3.9l-0.8,3.8l-0.8,3.9l-0.9,3.8l-0.9,3.8l-0.8,3.9l-0.9,3.8l-0.8,3.8l-0.9,3.8l-0.9,3.8l-0.9,3.8l-0.9,3.9l-0.9,3.8l-0.9,3.9l-1,3.8l-1,4l-1,3.9l-1.1,3.8l-1.1,3.8l-1.1,4l-1.2,4.1l-1.2,4.1l-1.2,4.1l-1.2,4l-1.2,4l-1.2,4l-1.2,3.8l-1.1,3.6l-1.1,3.5l-1,3.2l-0.9,3l-1.5,4.6l-1.3,4.1l-1.2,3.5l-1.1,3.1l-1,3l-1,2.8l-1.1,2.9l-1,3l-1.3,3.6l-1.4,3.6l-1.3,3.5l-1.3,3.4l-1.2,3.3l-1.2,3.1l-1.1,3l-1.4,3.6l-1.2,3.2l-1.1,2.9l-1.2,3.1l-1.3,3.7l-1.2,3l-1.1,3.3l-1.3,3.4l-1.2,3.6l-1.3,3.5l-1.4,3.6l-1.3,3.4l-1.3,3.2l-1.4,3.3l-1.4,3.2l-1.4,3.3l-1.4,3.1l-1.5,3.2l-1.6,3.1l-1.7,3.2l-1.7,3.2l-1.8,3.2l-1.8,3.1l-1.9,3l-1.8,2.9l-1.8,2.7l-2.5,3.5l-2.5,3.3l-2.5,2.9l-2.5,2.8l-2.5,2.5l-3.1,2.7l-3.1,2.4l-3.2,2l-3.1,1.6l-3.1,1.4l-3.1,1l-3.2,0.8l-3.1,0.6l-3.1,0.4l-3.1,0.2l-3.2,0l-3.1,0l-3.1,0l-3.1,-0.1l-3.2,-0.2l-3.1,-0.3l-3.1,-0.5l-3.1,-0.6l-3.2,-0.7l-3.1,-0.7l-3.1,-0.6l-3.1,-0.7l-3.2,-0.6l-3.1,-0.6l-3.1,-0.6l-3.1,-0.5l-3.2,-0.5l-3.1,-0.3l-3.1,0l-3.1,0.1l-3.2,0.3l-3.1,0.3l-3.1,0.2l-3.1,0.3l-3.2,0.3l-3.1,0.4l-3.1,0.5l-3.1,0.6l-3.2,0.6l-3.1,0.8l-3.1,1l-3.1,1l-3.2,1.2l-3.1,1.2l-3.1,1.1l-3.2,1.2l-3.1,1.3l-3.1,1.4l-3.1,1.6l-3.2,1.8l-3.1,1.9l-3.1,2.2l-2.5,1.9l-2.5,2l-2.5,2.2l-2.5,2.2l-2.5,2.3l-2.4,2.3l-2.2,2.4l-2.3,2.4l-2.6,2.6l-3,2.8l-2.5,2.2l-2.9,2.3l-3,2.4l-3.1,2.5l-3.1,2.4l-3,2.3l-2.7,2.2l-3.3,2.7l-3.1,2.6l-2.9,2.5l-2.8,2.3l-2.9,2.3l-2.8,2.4l-2.8,2.3l-2.8,2.1l-2.6,2.1l-2.7,1.8l-3.2,2l-3.1,1.6l-3.1,1.5l-3.1,1.1l-3.1,0.9l-3.2,0.6l-3.1,0.4l-3.1,0l-3.1,-0.3l-3.2,-0.5l-3.1,-1l-3.1,-1.3l-3.2,-1.8l-3.1,-2.2l-3.2,-2.6l-3,-2.8l-2.3,-2.4l-2.3,-2.6l-2.3,-2.8l-2.2,-2.9l-2.2,-3l-1.7,-2.7l-1.8,-2.9l-1.7,-2.9l-1.6,-3l-1.6,-3l-1.6,-3.1l-1.4,-3l-1.3,-3.1l-1.2,-3.1l-1.2,-3.2l-1.2,-3.2l-1.2,-3.1l-1.3,-3.7l-1.3,-3.8l-1.3,-3.8l-1.1,-3.7l-1.2,-3.7l-1.1,-3.9l-1.1,-3.9l-1,-4l-1,-3.6l-0.8,-3.4l-0.8,-3.4l-0.5,-2.9l-0.5,-2.9l-0.7,-3.3l-0.7,-3.2l-0.7,-3.6l-0.8,-3.6l-0.8,-3.7l-0.8,-3.4l-0.8,-3.9l-0.8,-3.8l-0.7,-3.6l-0.8,-3.7l-0.8,-3.7l-0.7,-3.6l-0.8,-3.8l-0.8,-3.9l-0.7,-3.4l-0.8,-3.5l-0.7,-3.7l-0.8,-3.5l-0.8,-3.4l-0.9,-3.9l-0.9,-3.6l-1,-3.6l-0.9,-3.9l-0.8,-3.4l-0.7,-3.5l-0.8,-3.7l-0.7,-3.5l-0.8,-3.4l-0.9,-3.9l-0.8,-3.8l-1,-3.6l-1,-3.7l-1.1,-3.8l-1.2,-3.7l-1.3,-3.7l-1.4,-3.8l-1.2,-3.1l-1.2,-3.2l-1.3,-3.2l-1.3,-2.9l-1.3,-2.6l-2,-3.4l-2,-2.7l-2.2,-2l-3.7,-2l-3.8,-0.5l-2.5,0.7l-2.5,1.3l-2.5,1.7l-2.7,2.2l-2.6,2.6l-2.2,2.1l-2,1.9l-1,1.1z"/></g>
<g fill="#0000ff"><path d="M243.0,1083.5l3,-0.3l2.6,-0.3l3.4,-0.5l3.6,-0.4l2.9,0l3.5,1.3l2.8,2.5l2,2.1l2.1,2.6l2.1,2.7l2.1,3l2.1,3.1l2,2.7l2.1,2.3l2,2l2.2,1.3l3.5,0.4l4,-0.4l3.1,-0.4l3.5,-0.4l3.4,-0.4l3.5,-0.2l3.4,-0.2l3.1,0.4l3.2,1.6l3,2.8l2.1,1.9l2.2,2.2l2.3,2.4l2.2,2.2l2.9,2.7l2.9,2.5l3,2.3l2.8,2.2l2.8,1.9l3.1,1.5l3.5,0.8l3.8,0.4l4,0.1l2.9,0l3.1,-0.2l3.1,-0.2l3.3,-0.3l3.7,-0.2l4,-0.4l3.9,-0.2l3.4,0.2l3.7,1.1l3.1,1.7l3.2,1.6l3.7,1.4l3.8,1.3l3.8,1.1l3.8,0.8l3.9,0.6l3.6,0.4l3.1,0.3l2.9,0.1l2.7,-0.4l2.5,-1.1l2.4,-1.6l2.6,-1.7l2.8,-1.4l2.9,-1.5l3.3,-1.8l2.9,-1.7l3.1,-1.8l3.3,-2.1l3.2,-2.1l2.5,-1.9l2.5,-1.9l2.5,-2.1l2.5,-2l2.5,-2.1l2.6,-2.3l2.6,-2.3l2.6,-2.4l2.4,-2.3l2.3,-2l3.1,-2.9l2.8,-2.5l2.8,-2.1l3.2,-1.4l3.3,-1.1l3.5,-1.3l3,-1.4l3.1,-1.6l3.3,-1.7l3.2,-1.5l3.1,-1.4l3.1,-1.3l3.1,-1.2l3.1,-1.1l3.2,-0.9l3.1,-0.8l3.1,-0.7l3.2,-0.7l3.2,-0.8l3.2,-0.8l3.2,-0.8l2.8,-0.7l3.2,-1.2l2.7,-1.1l2.9,-0.9l3.1,-0.6l3.3,-0.4l3.6,-0.2l2.9,-0.1l3.2,0.1l3.2,0l3.2,0l3.1,-0.1l3.2,-0.1l3.1,-0.3l3.1,-0.4l3.1,-0.7l3.1,-0.9l3.2,-1l3.1,-1.1l3.1,-1.1l3.2,-1.2l3.1,-1.3l3.1,-1.5l3.1,-1.7l3.1,-1.8l3.2,-2l3.1,-2l3.1,-1.9l3.2,-2l3.1,-2.1l3.1,-2.7l2.5,-2.6l2.5,-3l2.5,-3.3l2.5,-3.3l2.5,-3.2l2.1,-2.6l2.1,-2.6l2.1,-2.6l2.1,-2.7l2,-2.7l2.1,-3l1.9,-2.8l1.7,-2.6l1.7,-2.7l1.8,-3.2l2.2,-4l2.7,-5.1l1.4,-2.6l1.5,-2.9l1.6,-3.1l1.7,-3.3l1.8,-3.4l1.9,-3.6l1.9,-3.7l1.9,-3.8l1.9,-3.9l1.9,-3.8l1.8,-3.8l1.7,-3.8l1.7,-3.7l1.5,-3.6l1.5,-3.5l1.4,-3.6l1.4,-3.5l1.3,-3.6l1.3,-3.6l1.3,-3.6l1.2,-3.5l1.2,-3.6l1.2,-3.6l1.2,-3.6l1.1,-3.6l1.2,-3.5l1.1,-3.6l1.2,-3.6l1.1,-3.6l1.1,-3.5l1,-3.6l1.1,-3.6l1,-3.6l1,-3.5l1,-3.6l1,-3.6l1,-3.5l1,-3.6l1,-3.6l1,-3.6l1,-3.5l1,-3.6l1,-3.6l1.1,-3.5l1,-3.6l1,-3.6l1.1,-3.6l1,-3.5l1.1,-3.6l1,-3.6l1,-3.5l1,-3.6l1.1,-3.6l1,-3.6l1,-3.5l1,-3.6l1.1,-3.8l1,-3.9l1.1,-3.8l1.1,-3.9l1,-3.8l1.1,-3.9l1,-3.8l1.1,-3.9l1,-3.8l1,-3.9l1,-3.8l1,-3.9l1,-3.8l1,-3.8l0.9,-3.9l1,-3.8l0.9,-3.9l0.9,-3.8l1,-3.9l0.9,-3.8l0.9,-3.9l0.9,-3.8l0.9,-3.9l0.9,-3.8l0.9,-3.9l0.9,-3.8l0.9,-3.8l0.9,-3.9l0.9,-3.8l0.9,-3.9l0.9,-3.8l0.8,-3.9l0.9,-3.8l0.9,-3.9l0.9,-3.8l0.9,-3.9l0.8,-3.8l0.9,-3.9l0.9,-3.8l0.9,-3.8l0.9,-3.9l0.8,-3.8l0.9,-3.9l0.9,-3.8l0.9,-3.9l0.9,-3.8l0.8,-3.9l0.9,-3.8l0.9,-3.9l0.9,-3.8l0.9,-3.9l0.9,-3.8l0.9,-3.8l0.9,-3.9l1,-3.8l0.9,-3.9l0.9,-3.8l1,-3.9l0.9,-3.8l1,-3.9l0.9,-3.8l0.9,-3.9l1,-3.8l0.9,-3.9l0.9,-3.8l0.9,-3.8l0.9,-3.9l0.9,-3.8l0.9,-3.9l0.9,-3.8l0.9,-3.9l0.8,-3.8l0.9,-3.9l0.9,-3.8l0.9,-3.9l0.8,-3.8l0.9,-3.9l0.9,-3.8l0.9,-3.8l0.9,-3.9l0.8,-3.8l0.9,-3.9l0.9,-3.8l0.9,-3.9l0.9,-3.8l0.9,-3.9l0.8,-3.8l0.9,-3.9l0.9,-3.8l0.8,-3.9l0.9,-3.8l0.9,-3.9l0.9,-4.1l0.9,-4.3l0.9,-4.2l1,-4.3l0.9,-4.3l0.9,-4.2l0.9,-4l0.8,-3.9l0.8,-3.7l0.7,-3.3l0.7,-3.1l0.6,-2.7l1.4,-6l0.7,-3.1l0.7,-2.3l0.9,-3.6l0.8,-3l0.8,-3.4l0.9,-3.6l0.9,-3.8l1,-3.8l0.9,-3.7l1,-3.7l0.9,-3.6l1,-3.5l1,-3.6l0.9,-3.6l1,-3.6l1,-3.5l1.1,-3.6l1,-3.6l1,-3.5l1.1,-3.6l1,-3.6l1.1,-3.6l1.1,-3.5l1.1,-3.6l1.2,-3.6l1.2,-3.5l1.2,-3.6l1.3,-3.6l1.3,-3.6l1.3,-3.5l1.3,-3.6l1.3,-3.6l1.4,-3.5l1.4,-3.6l1.4,-3.6l1.5,-3.6l1.5,-3.5l1.5,-3.6l1.6,-3.6l1.7,-3.5l1.7,-3.6l1.7,-3.6l1.7,-3.6l1.8,-3.5l1.7,-3.6l1.7,-3.6l1.7,-3.5l1.7,-3.6l1.7,-3.6l1.7,-3.6l1.8,-3.5l1.8,-3.6l1.6,-3.1l1.6,-3.2l1.6,-3.2l1.7,-3.2l1.7,-3.1l1.7,-3.1l1.8,-3.1l1.8,-3l2.2,-3.4l2.2,-3.5l2.2,-3.4l2.4,-3.3l2.3,-3.2l2.5,-3l2.5,-2.7l2.9,-2.9l3,-2.5l3,-2.3l3.2,-2.2l3.2,-1.9l3.4,-2l3,-1.5l3.1,-1.4l3.1,-1.3l3.3,-1.3l3.3,-1.1l3.3,-1.1l3.4,-1l3.4,-0.9l3.4,-0.9l3.4,-0.8l3.5,-0.7l3.6,-0.6l3.8,-0.6l3.9,-0.5l3.6,-0.4l3.8,-0.4l3.9,-0.3l3.9,-0.3l4.1,-0.2l4,-0.2l4,-0.1l3.9,0l4,0.1l3.9,0.2l3.9,0.3l3.9,0.3l3.9,0.4l3.9,0.4l3.9,0.4l3.9,0.4l3.9,0.4l3.9,0.4l3.9,0.5l3.9,0.4l3.9,0.5l3.9,0.5l3.9,0.6l4,0.5l3.9,0.6l4.1,0.6l4.2,0.7l4.1,0.6l4,0.7l3.9,0.7l3.6,0.6l3.4,0.5l3.9,0.6l3.3,0.6l3.1,0.5l2.9,0.4l3.1,0.5l3.5,0.5l3.2,0.4l3.4,0.4l3.4,0.5l3.6,0.4l3.7,0.4l3.8,0.5l3.9,0.4l3.5,0.3l3.8,0.2l3.8,0.3l4,0.2l3.9,0.3l3.9,0.3l3.7,0.4l3.6,0.5l3.9,0.6l3.8,0.9l3.6,0.9l3.6,0.9l3.5,0.9l3.3,0.8l3.3,0.7l3.6,0.6l3.5,0.6l3.3,0.5l3.3,0.3l3.1,0.3l3.2,0.2l3.6,0.1l3.5,-0.1l3.5,-0.2l3.4,-0.2l3.5,-0.4l3.4,-0.4l3.4,-0.5l3.5,-0.6l3.5,-0.5l3.6,-0.4l3.9,-0.3l4,-0.3l4,-0.1l4.1,0l4,0.2l3.4,0.2l3.4,0.5l3.4,0.5l3.3,0.6l3.3,0.6l3.2,0.5l3.6,0.7l3.2,0.7l3.3,0.7l3.5,0.7l3.9,0.5l3.2,0.3l3.4,0.2l3.6,0.2l3.7,0.1l3.7,0.1l3.8,0.2l3.6,0.1l3.5,0.2l3.3,0.2l3.3,0.3l3.3,0.2l3.5,0.1l3.9,0.2l4.2,0.1l3.2,0l3.5,0l3.6,0l3.8,0l3.9,0l3.9,-0.1l3.9,0l4,-0.1l3.9,0l3.8,-0.1l3.8,0l3.8,-0.1l3.9,0l3.8,-0.1l3.9,-0.1l3.8,0l3.8,-0.1l3.6,0l3.6,-0.1l3.5,0l4.2,0.1l4.1,0l4.1,0l4,0.1l3.7,0l3.6,0.2l3.3,0.2l2.9,0.2l4.9,0.8l3.7,1l3.2,1.1l3.2,0.8l3.3,0.7l3.1,0.6l3.1,0.4l3,0.1l3.2,-0.3l3.1,-0.6l3.1,-0.8l3.1,-0.6l3.1,-0.5l3,-0.5l3.1,-0.4l3.3,-0.1l3.5,0.5l3.5,0.8l3.8,1l4.2,1l3.3,0.6l3.7,0.7l3.9,0.8l3.7,0.7l3.2,0.5l2.2,0.4l15.2,2.1l60,-0.4l22,0.4l16,-14l16,0l26,7l40,8l40,7l40,7l30,6l35,3l0,11l-35,-3l-30,-6l-40,-7l-40,-7l-40,-8l-26,-7l-16,0l-16,14l-22,-0.4l-60,0.4l-15.2,-2.1l-2.2,-0.4l-3.2,-0.5l-3.7,-0.7l-3.9,-0.8l-3.7,-0.7l-3.3,-0.6l-4.2,-1l-3.8,-1l-3.5,-0.8l-3.5,-0.5l-3.3,0.1l-3.1,0.4l-3,0.5l-3.1,0.5l-3.1,0.6l-3.1,0.8l-3.1,0.6l-3.2,0.3l-3,-0.1l-3.1,-0.4l-3.1,-0.6l-3.3,-0.7l-3.2,-0.8l-3.2,-1.1l-3.7,-1l-4.9,-0.8l-2.9,-0.2l-3.3,-0.2l-3.6,-0.2l-3.7,0l-4,-0.1l-4.1,0l-4.1,0l-4.2,-0.1l-3.5,0l-3.6,0.1l-3.6,0l-3.8,0.1l-3.8,0l-3.9,0.1l-3.8,0.1l-3.9,0l-3.8,0.1l-3.8,0l-3.8,0.1l-3.9,0l-4,0.1l-3.9,0l-3.9,0.1l-3.9,0l-3.8,0l-3.6,0l-3.5,0l-3.2,0l-4.2,-0.1l-3.9,-0.2l-3.5,-0.1l-3.3,-0.2l-3.3,-0.3l-3.3,-0.2l-3.5,-0.2l-3.6,-0.1l-3.8,-0.2l-3.7,-0.1l-3.7,-0.1l-3.6,-0.2l-3.4,-0.2l-3.2,-0.3l-3.9,-0.5l-3.5,-0.7l-3.3,-0.7l-3.2,-0.7l-3.6,-0.7l-3.2,-0.5l-3.3,-0.6l-3.3,-0.6l-3.4,-0.5l-3.4,-0.5l-3.4,-0.2l-4,-0.2l-4.1,0l-4,0.1l-4,0.3l-3.9,0.3l-3.6,0.4l-3.5,0.5l-3.5,0.6l-3.4,0.5l-3.4,0.4l-3.5,0.4l-3.4,0.2l-3.5,0.2l-3.5,0.1l-3.6,-0.1l-3.2,-0.2l-3.1,-0.3l-3.3,-0.3l-3.3,-0.5l-3.5,-0.6l-3.6,-0.6l-3.3,-0.7l-3.3,-0.8l-3.5,-0.9l-3.6,-0.9l-3.6,-0.9l-3.8,-0.9l-3.9,-0.6l-3.6,-0.5l-3.7,-0.4l-3.9,-0.3l-3.9,-0.3l-4,-0.2l-3.8,-0.3l-3.8,-0.2l-3.5,-0.3l-3.9,-0.4l-3.8,-0.5l-3.7,-0.4l-3.6,-0.4l-3.4,-0.5l-3.4,-0.4l-3.2,-0.4l-3.5,-0.5l-3.1,-0.5l-2.9,-0.4l-3.1,-0.5l-3.3,-0.6l-3.9,-0.6l-3.4,-0.5l-3.6,-0.6l-3.9,-0.7l-4,-0.7l-4.1,-0.6l-4.2,-0.7l-4.1,-0.6l-3.9,-0.6l-4,-0.5l-3.9,-0.6l-3.9,-0.5l-3.9,-0.5l-3.9,-0.4l-3.9,-0.5l-3.9,-0.4l-3.9,-0.4l-3.9,-0.4l-3.9,-0.4l-3.9,-0.4l-3.9,-0.4l-3.9,-0.3l-3.9,-0.3l-3.9,-0.2l-4,-0.1l-3.9,0l-4,0.1l-4,0.2l-4.1,0.2l-3.9,0.3l-3.9,0.3l-3.8,0.4l-3.6,0.4l-3.9,0.5l-3.8,0.6l-3.6,0.6l-3.5,0.7l-3.4,0.8l-3.4,0.9l-3.4,0.9l-3.4,1l-3.3,1.1l-3.3,1.1l-3.3,1.3l-3.1,1.3l-3.1,1.4l-3,1.5l-3.4,2l-3.2,1.9l-3.2,2.2l-3,2.3l-3,2.5l-2.9,2.9l-2.5,2.7l-2.5,3l-2.3,3.2l-2.4,3.3l-2.2,3.4l-2.2,3.5l-2.2,3.4l-1.8,3l-1.8,3.1l-1.7,3.1l-1.7,3.1l-1.7,3.2l-1.6,3.2l-1.6,3.2l-1.6,3.1l-1.8,3.6l-1.8,3.5l-1.7,3.6l-1.7,3.6l-1.7,3.6l-1.7,3.5l-1.7,3.6l-1.7,3.6l-1.8,3.5l-1.7,3.6l-1.7,3.6l-1.7,3.6l-1.7,3.5l-1.6,3.6l-1.5,3.6l-1.5,3.5l-1.5,3.6l-1.4,3.6l-1.4,3.6l-1.4,3.5l-1.3,3.6l-1.3,3.6l-1.3,3.5l-1.3,3.6l-1.3,3.6l-1.2,3.6l-1.2,3.5l-1.2,3.6l-1.1,3.6l-1.1,3.5l-1.1,3.6l-1,3.6l-1.1,3.6l-1,3.5l-1,3.6l-1.1,3.6l-1,3.5l-1,3.6l-0.9,3.6l-1,3.6l-1,3.5l-0.9,3.6l-1,3.7l-0.9,3.7l-1,3.8l-0.9,3.8l-0.9,3.6l-0.8,3.4l-0.8,3l-0.9,3.6l-0.7,2.3l-0.7,3.1l-1.4,6l-0.6,2.7l-0.7,3.1l-0.7,3.3l-0.8,3.7l-0.8,3.9l-0.9,4l-0.9,4.2l-0.9,4.3l-1,4.3l-0.9,4.2l-0.9,4.3l-0.9,4.1l-0.9,3.9l-0.9,3.8l-0.8,3.9l-0.9,3.8l-0.9,3.9l-0.8,3.8l-0.9,3.9l-0.9,3.8l-0.9,3.9l-0.9,3.8l-0.9,3.9l-0.8,3.8l-0.9,3.9l-0.9,3.8l-0.9,3.8l-0.9,3.9l-0.8,3.8l-0.9,3.9l-0.9,3.8l-0.9,3.9l-0.8,3.8l-0.9,3.9l-0.9,3.8l-0.9,3.9l-0.9,3.8l-0.9,3.9l-0.9,3.8l-0.9,3.8l-0.9,3.9l-1,3.8l-0.9,3.9l-0.9,3.8l-1,3.9l-0.9,3.8l-1,3.9l-0.9,3.8l-0.9,3.9l-1,3.8l-0.9,3.9l-0.9,3.8l-0.9,3.8l-0.9,3.9l-0.9,3.8l-0.9,3.9l-0.9,3.8l-0.8,3.9l-0.9,3.8l-0.9,3.9l-0.9,3.8l-0.9,3.9l-0.8,3.8l-0.9,3.9l-0.9,3.8l-0.9,3.8l-0.9,3.9l-0.8,3.8l-0.9,3.9l-0.9,3.8l-0.9,3.9l-0.9,3.8l-0.8,3.9l-0.9,3.8l-0.9,3.9l-0.9,3.8l-0.9,3.9l-0.9,3.8l-0.9,3.8l-0.9,3.9l-0.9,3.8l-0.9,3.9l-0.9,3.8l-0.9,3.9l-0.9,3.8l-1,3.9l-0.9,3.8l-0.9,3.9l-1,3.8l-0.9,3.9l-1,3.8l-1,3.8l-1,3.9l-1,3.8l-1,3.9l-1,3.8l-1.1,3.9l-1,3.8l-1.1,3.9l-1,3.8l-1.1,3.9l-1.1,3.8l-1,3.9l-1.1,3.8l-1,3.6l-1,3.5l-1,3.6l-1.1,3.6l-1,3.6l-1,3.5l-1,3.6l-1.1,3.6l-1,3.5l-1.1,3.6l-1,3.6l-1,3.6l-1.1,3.5l-1,3.6l-1,3.6l-1,3.5l-1,3.6l-1,3.6l-1,3.6l-1,3.5l-1,3.6l-1,3.6l-1,3.5l-1,3.6l-1.1,3.6l-1,3.6l-1.1,3.5l-1.1,3.6l-1.2,3.6l-1.1,3.6l-1.2,3.5l-1.1,3.6l-1.2,3.6l-1.2,3.6l-1.2,3.6l-1.2,3.5l-1.3,3.6l-1.3,3.6l-1.3,3.6l-1.4,3.5l-1.4,3.6l-1.5,3.5l-1.5,3.6l-1.7,3.7l-1.7,3.8l-1.8,3.8l-1.9,3.8l-1.9,3.9l-1.9,3.8l-1.9,3.7l-1.9,3.6l-1.8,3.4l-1.7,3.3l-1.6,3.1l-1.5,2.9l-1.4,2.6l-2.7,5.1l-2.2,4l-1.8,3.2l-1.7,2.7l-1.7,2.6l-1.9,2.8l-2.1,3l-2,2.7l-2.1,2.7l-2.1,2.6l-2.1,2.6l-2.1,2.6l-2.5,3.2l-2.5,3.3l-2.5,3.3l-2.5,3l-2.5,2.6l-3.1,2.7l-3.1,2.1l-3.2,2l-3.1,1.9l-3.1,2l-3.2,2l-3.1,1.8l-3.1,1.7l-3.1,1.5l-3.1,1.3l-3.2,1.2l-3.1,1.1l-3.1,1.1l-3.2,1l-3.1,0.9l-3.1,0.7l-3.1,0.4l-3.1,0.3l-3.2,0.1l-3.1,0.1l-3.2,0l-3.2,0l-3.2,-0.1l-2.9,0.1l-3.6,0.2l-3.3,0.4l-3.1,0.6l-2.9,0.9l-2.7,1.1l-3.2,1.2l-2.8,0.7l-3.2,0.8l-3.2,0.8l-3.2,0.8l-3.2,0.7l-3.1,0.7l-3.1,0.8l-3.2,0.9l-3.1,1.1l-3.1,1.2l-3.1,1.3l-3.1,1.4l-3.2,1.5l-3.3,1.7l-3.1,1.6l-3,1.4l-3.5,1.3l-3.3,1.1l-3.2,1.4l-2.8,2.1l-2.8,2.5l-3.1,2.9l-2.3,2l-2.4,2.3l-2.6,2.4l-2.6,2.3l-2.6,2.3l-2.5,2.1l-2.5,2l-2.5,2.1l-2.5,1.9l-2.5,1.9l-3.2,2.1l-3.3,2.1l-3.1,1.8l-2.9,1.7l-3.3,1.8l-2.9,1.5l-2.8,1.4l-2.6,1.7l-2.4,1.6l-2.5,1.1l-2.7,0.4l-2.9,-0.1l-3.1,-0.3l-3.6,-0.4l-3.9,-0.6l-3.8,-0.8l-3.8,-1.1l-3.8,-1.3l-3.7,-1.4l-3.2,-1.6l-3.1,-1.7l-3.7,-1.1l-3.4,-0.2l-3.9,0.2l-4,0.4l-3.7,0.2l-3.3,0.3l-3.1,0.2l-3.1,0.2l-2.9,0l-4,-0.1l-3.8,-0.4l-3.5,-0.8l-3.1,-1.5l-2.8,-1.9l-2.8,-2.2l-3,-2.3l-2.9,-2.5l-2.9,-2.7l-2.2,-2.2l-2.3,-2.4l-2.2,-2.2l-2.1,-1.9l-3,-2.8l-3.2,-1.6l-3.1,-0.4l-3.4,0.2l-3.5,0.2l-3.4,0.4l-3.5,0.4l-3.1,0.4l-4,0.4l-3.5,-0.4l-2.2,-1.3l-2,-2l-2.1,-2.3l-2,-2.7l-2.1,-3.1l-2.1,-3l-2.1,-2.7l-2.1,-2.6l-2,-2.1l-2.8,-2.5l-3.5,-1.3l-2.9,0l-3.6,0.4l-3.4,0.5l-2.6,0.3l-3,0.3z"/><path d="M237.8,1089.0l3,-0.2l2.6,-0.4l3.4,-0.5l3.6,-0.4l2.9,0l3.5,1.3l2.8,2.4l2,2.2l2.1,2.6l2.1,2.8l2.1,2.9l2.1,3.1l2.1,2.7l2,2.3l2,2l2.2,1.3l3.5,0.4l4,-0.4l3.1,-0.4l3.5,-0.4l3.4,-0.4l3.5,-0.2l3.4,-0.2l3.1,0.4l3.2,1.6l3.1,2.7l2,2l2.2,2.2l2.3,2.4l2.2,2.2l2.9,2.7l2.9,2.5l3,2.3l2.8,2.2l2.8,1.9l3.1,1.5l3.5,0.8l3.8,0.4l4,0.1l2.9,0l3.1,-0.2l3.1,-0.2l3.4,-0.2l3.6,-0.3l4,-0.4l3.9,-0.2l3.5,0.2l3.6,1.1l3.1,1.7l3.3,1.6l3.6,1.4l3.8,1.3l3.8,1l3.8,0.9l3.9,0.6l3.6,0.4l3.1,0.3l2.9,0.1l2.7,-0.4l2.5,-1.1l2.4,-1.6l2.6,-1.6l2.8,-1.5l2.9,-1.5l3.3,-1.8l2.9,-1.7l3.1,-1.8l3.3,-2.1l3.2,-2.2l2.5,-1.8l2.5,-1.9l2.5,-2.1l2.5,-2l2.5,-2.2l2.6,-2.2l2.6,-2.3l2.6,-2.4l2.4,-2.3l2.3,-2l3.1,-2.9l2.8,-2.5l2.9,-2.1l3.1,-1.4l3.3,-1.1l3.6,-1.2l2.9,-1.5l3.1,-1.6l3.3,-1.7l3.2,-1.5l3.1,-1.4l3.1,-1.3l3.1,-1.2l3.1,-1.1l3.2,-0.9l3.1,-0.8l3.1,-0.7l3.1,-0.7l3.3,-0.8l3.2,-0.8l3.2,-0.8l2.8,-0.8l3.2,-1.1l2.7,-1.1l2.9,-0.9l3.1,-0.6l3.3,-0.4l3.6,-0.2l2.9,-0.1l3.2,0.1l3.2,0l3.2,0l3.1,-0.1l3.1,-0.1l3.2,-0.3l3.1,-0.4l3.1,-0.7l3.1,-0.9l3.2,-1l3.1,-1.1l3.1,-1.1l3.1,-1.2l3.2,-1.3l3.1,-1.5l3.1,-1.7l3.1,-1.8l3.2,-2l3.1,-2l3.1,-1.9l3.1,-2l3.2,-2.1l3.1,-2.7l2.5,-2.6l2.5,-3l2.5,-3.3l2.5,-3.3l2.5,-3.2l2.1,-2.6l2.1,-2.6l2.1,-2.6l2.1,-2.7l2,-2.7l2.1,-3l1.9,-2.8l1.7,-2.6l1.7,-2.8l1.8,-3.1l2.2,-4l2.7,-5.1l1.4,-2.6l1.5,-2.9l1.6,-3.1l1.7,-3.3l1.8,-3.4l1.9,-3.6l1.9,-3.7l1.9,-3.8l1.9,-3.9l1.9,-3.8l1.8,-3.8l1.7,-3.8l1.7,-3.7l1.5,-3.6l1.5,-3.5l1.4,-3.6l1.4,-3.5l1.3,-3.6l1.3,-3.6l1.3,-3.6l1.2,-3.5l1.2,-3.6l1.2,-3.6l1.2,-3.6l1.1,-3.6l1.2,-3.5l1.1,-3.6l1.1,-3.6l1.2,-3.6l1.1,-3.5l1,-3.6l1.1,-3.6l1,-3.6l1,-3.5l1,-3.6l1,-3.6l1,-3.5l1,-3.6l1,-3.6l1,-3.6l1,-3.5l1,-3.6l1,-3.6l1.1,-3.5l1,-3.6l1,-3.6l1.1,-3.6l1,-3.5l1.1,-3.6l1,-3.6l1,-3.5l1,-3.6l1.1,-3.6l1,-3.6l1,-3.5l1,-3.6l1.1,-3.8l1,-3.9l1.1,-3.8l1.1,-3.9l1,-3.8l1.1,-3.9l1,-3.8l1.1,-3.9l1,-3.8l1,-3.9l1,-3.8l1,-3.9l1,-3.8l1,-3.8l0.9,-3.9l1,-3.8l0.9,-3.9l0.9,-3.8l1,-3.9l0.9,-3.8l0.9,-3.9l0.9,-3.8l0.9,-3.9l0.9,-3.8l0.9,-3.9l0.9,-3.8l0.9,-3.8l0.9,-3.9l0.9,-3.8l0.9,-3.9l0.9,-3.8l0.8,-3.9l0.9,-3.8l0.9,-3.9l0.9,-3.8l0.9,-3.9l0.8,-3.8l0.9,-3.9l0.9,-3.8l0.9,-3.8l0.9,-3.9l0.8,-3.8l0.9,-3.9l0.9,-3.8l0.9,-3.9l0.9,-3.8l0.8,-3.9l0.9,-3.8l0.9,-3.9l0.9,-3.8l0.9,-3.9l0.9,-3.8l0.9,-3.8l0.9,-3.9l1,-3.8l0.9,-3.9l0.9,-3.8l1,-3.9l0.9,-3.8l1,-3.9l0.9,-3.8l0.9,-3.9l1,-3.8l0.9,-3.9l0.9,-3.8l0.9,-3.8l0.9,-3.9l0.9,-3.8l0.9,-3.9l0.9,-3.8l0.9,-3.9l0.8,-3.8l0.9,-3.9l0.9,-3.8l0.9,-3.9l0.8,-3.8l0.9,-3.9l0.9,-3.8l0.9,-3.8l0.9,-3.9l0.8,-3.8l0.9,-3.9l0.9,-3.8l0.9,-3.9l0.9,-3.8l0.9,-3.9l0.8,-3.8l0.9,-3.9l0.9,-3.8l0.8,-3.9l0.9,-3.8l0.9,-3.9l0.9,-4.1l0.9,-4.3l0.9,-4.2l1,-4.3l0.9,-4.3l0.9,-4.2l0.9,-4l0.8,-3.9l0.8,-3.7l0.7,-3.3l0.7,-3.1l0.6,-2.7l1.4,-6l0.7,-3.1l0.7,-2.3l0.9,-3.6l0.8,-3l0.8,-3.4l0.9,-3.6l0.9,-3.8l1,-3.8l0.9,-3.7l1,-3.7l0.9,-3.6l1,-3.5l1,-3.6l0.9,-3.6l1,-3.6l1,-3.5l1,-3.6l1.1,-3.6l1,-3.5l1.1,-3.6l1,-3.6l1.1,-3.6l1.1,-3.5l1.1,-3.6l1.2,-3.6l1.2,-3.5l1.2,-3.6l1.3,-3.6l1.3,-3.6l1.3,-3.5l1.3,-3.6l1.3,-3.6l1.4,-3.5l1.4,-3.6l1.4,-3.6l1.5,-3.6l1.5,-3.5l1.5,-3.6l1.6,-3.6l1.7,-3.5l1.7,-3.6l1.7,-3.6l1.7,-3.6l1.8,-3.5l1.7,-3.6l1.7,-3.6l1.7,-3.5l1.7,-3.6l1.7,-3.6l1.7,-3.6l1.8,-3.5l1.8,-3.6l1.6,-3.1l1.6,-3.2l1.6,-3.2l1.7,-3.2l1.7,-3.1l1.7,-3.1l1.8,-3.1l1.8,-3l2.2,-3.4l2.2,-3.5l2.2,-3.4l2.4,-3.3l2.3,-3.2l2.5,-3l2.4,-2.7l3,-2.9l3,-2.5l3,-2.3l3.2,-2.2l3.2,-1.9l3.4,-1.9l3,-1.6l3.1,-1.4l3.1,-1.3l3.3,-1.3l3.3,-1.1l3.3,-1.1l3.4,-1l3.4,-0.9l3.4,-0.9l3.4,-0.8l3.5,-0.7l3.6,-0.6l3.8,-0.6l3.9,-0.5l3.6,-0.4l3.8,-0.4l3.9,-0.3l3.9,-0.3l4.1,-0.2l4,-0.2l4,-0.1l3.9,0l4,0.1l3.9,0.2l3.9,0.3l3.9,0.3l3.9,0.4l3.9,0.4l3.9,0.4l3.9,0.4l3.9,0.4l3.9,0.4l3.9,0.5l3.9,0.4l3.9,0.5l3.9,0.5l3.9,0.6l3.9,0.5l4,0.6l4.1,0.6l4.2,0.7l4.1,0.6l4,0.7l3.9,0.7l3.6,0.6l3.4,0.5l3.9,0.6l3.3,0.6l3.1,0.5l2.9,0.4l3.1,0.5l3.5,0.5l3.2,0.4l3.4,0.4l3.4,0.5l3.6,0.4l3.7,0.4l3.8,0.5l3.9,0.4l3.5,0.3l3.8,0.2l3.8,0.3l4,0.2l3.9,0.3l3.9,0.3l3.7,0.4l3.6,0.5l3.9,0.6l3.8,0.9l3.6,0.9l3.6,0.9l3.5,0.9l3.3,0.8l3.3,0.7l3.6,0.6l3.5,0.6l3.3,0.5l3.3,0.3l3.1,0.3l3.2,0.2l3.6,0.1l3.5,-0.1l3.5,-0.2l3.4,-0.2l3.5,-0.4l3.4,-0.4l3.4,-0.5l3.5,-0.6l3.5,-0.5l3.6,-0.4l3.9,-0.3l4,-0.3l4,-0.1l4.1,0l4,0.2l3.4,0.2l3.4,0.5l3.4,0.5l3.3,0.6l3.3,0.6l3.2,0.5l3.6,0.7l3.2,0.7l3.3,0.7l3.5,0.7l3.9,0.5l3.2,0.3l3.4,0.2l3.6,0.2l3.7,0.1l3.7,0.1l3.8,0.2l3.6,0.1l3.5,0.2l3.3,0.2l3.3,0.3l3.3,0.2l3.5,0.1l3.9,0.2l4.2,0.1l3.2,0l3.5,0l3.6,0l3.8,0l3.9,0l3.9,-0.1l3.9,0l4,-0.1l3.9,0l3.8,-0.1l3.8,0l3.8,-0.1l3.9,0l3.8,-0.1l3.9,-0.1l3.8,0l3.8,-0.1l3.6,0l3.6,-0.1l3.5,0l4.2,0.1l4.1,0l4.1,0l4,0.1l3.7,0l3.6,0.2l3.3,0.2l2.9,0.2l4.9,0.8l3.7,1l3.2,1.1l3.2,0.8l3.3,0.7l3.1,0.6l3.1,0.4l3,0.1l3.2,-0.3l3.1,-0.6l3.1,-0.8l3.1,-0.6l3.1,-0.5l3,-0.5l3.1,-0.4l3.3,-0.1l3.5,0.5l3.5,0.8l3.8,1l4.2,1l3.3,0.6l3.7,0.7l3.9,0.8l3.7,0.7l3.2,0.5l2.2,0.4l15.2,2.1l60,-0.4l22,0.4l16,-14l16,0l26,7l40,8l40,7l40,7l30,6l35,3l10.4,0l-35,-3l-30,-6l-40,-7l-40,-7l-40,-8l-26,-7l-16,0l-16,14l-22,-0.4l-60,0.4l-15.2,-2.1l-2.2,-0.4l-3.2,-0.5l-3.7,-0.7l-3.9,-0.8l-3.7,-0.7l-3.3,-0.6l-4.2,-1l-3.8,-1l-3.5,-0.8l-3.5,-0.5l-3.3,0.1l-3.1,0.4l-3,0.5l-3.1,0.5l-3.1,0.6l-3.1,0.8l-3.1,0.6l-3.2,0.3l-3,-0.1l-3.1,-0.4l-3.1,-0.6l-3.3,-0.7l-3.2,-0.8l-3.2,-1.1l-3.7,-1l-4.9,-0.8l-2.9,-0.2l-3.3,-0.2l-3.6,-0.2l-3.7,0l-4,-0.1l-4.1,0l-4.1,0l-4.2,-0.1l-3.5,0l-3.6,0.1l-3.6,0l-3.8,0.1l-3.8,0l-3.9,0.1l-3.8,0.1l-3.9,0l-3.8,0.1l-3.8,0l-3.8,0.1l-3.9,0l-4,0.1l-3.9,0l-3.9,0.1l-3.9,0l-3.8,0l-3.6,0l-3.5,0l-3.2,0l-4.2,-0.1l-3.9,-0.2l-3.5,-0.1l-3.3,-0.2l-3.3,-0.3l-3.3,-0.2l-3.5,-0.2l-3.6,-0.1l-3.8,-0.2l-3.7,-0.1l-3.7,-0.1l-3.6,-0.2l-3.4,-0.2l-3.2,-0.3l-3.9,-0.5l-3.5,-0.7l-3.3,-0.7l-3.2,-0.7l-3.6,-0.7l-3.2,-0.5l-3.3,-0.6l-3.3,-0.6l-3.4,-0.5l-3.4,-0.5l-3.4,-0.2l-4,-0.2l-4.1,0l-4,0.1l-4,0.3l-3.9,0.3l-3.6,0.4l-3.5,0.5l-3.5,0.6l-3.4,0.5l-3.4,0.4l-3.5,0.4l-3.4,0.2l-3.5,0.2l-3.5,0.1l-3.6,-0.1l-3.2,-0.2l-3.1,-0.3l-3.3,-0.3l-3.3,-0.5l-3.5,-0.6l-3.6,-0.6l-3.3,-0.7l-3.3,-0.8l-3.5,-0.9l-3.6,-0.9l-3.6,-0.9l-3.8,-0.9l-3.9,-0.6l-3.6,-0.5l-3.7,-0.4l-3.9,-0.3l-3.9,-0.3l-4,-0.2l-3.8,-0.3l-3.8,-0.2l-3.5,-0.3l-3.9,-0.4l-3.8,-0.5l-3.7,-0.4l-3.6,-0.4l-3.4,-0.5l-3.4,-0.4l-3.2,-0.4l-3.5,-0.5l-3.1,-0.5l-2.9,-0.4l-3.1,-0.5l-3.3,-0.6l-3.9,-0.6l-3.4,-0.5l-3.6,-0.6l-3.9,-0.7l-4,-0.7l-4.1,-0.6l-4.2,-0.7l-4.1,-0.6l-3.9,-0.6l-4,-0.5l-3.9,-0.6l-3.9,-0.5l-3.9,-0.5l-3.9,-0.4l-3.9,-0.5l-3.9,-0.4l-3.9,-0.4l-3.9,-0.4l-3.9,-0.4l-3.9,-0.4l-3.9,-0.4l-3.9,-0.3l-3.9,-0.3l-3.9,-0.2l-3.9,-0.1l-4,0l-4,0.1l-4,0.2l-4.1,0.2l-3.9,0.3l-3.9,0.3l-3.8,0.4l-3.6,0.4l-3.9,0.5l-3.8,0.6l-3.6,0.6l-3.5,0.7l-3.4,0.8l-3.4,0.9l-3.4,0.9l-3.4,1l-3.3,1.1l-3.3,1.1l-3.3,1.3l-3.1,1.3l-3.1,1.4l-3,1.6l-3.4,1.9l-3.2,1.9l-3.2,2.2l-3,2.3l-3,2.5l-2.9,2.9l-2.5,2.7l-2.5,3l-2.3,3.2l-2.4,3.3l-2.2,3.4l-2.2,3.5l-2.2,3.4l-1.8,3l-1.8,3.1l-1.7,3.1l-1.7,3.1l-1.7,3.2l-1.6,3.2l-1.6,3.2l-1.6,3.1l-1.8,3.6l-1.8,3.5l-1.7,3.6l-1.7,3.6l-1.7,3.6l-1.7,3.5l-1.7,3.6l-1.7,3.6l-1.8,3.5l-1.7,3.6l-1.7,3.6l-1.7,3.6l-1.7,3.5l-1.6,3.6l-1.5,3.6l-1.5,3.5l-1.5,3.6l-1.4,3.6l-1.4,3.6l-1.4,3.5l-1.3,3.6l-1.3,3.6l-1.3,3.5l-1.3,3.6l-1.3,3.6l-1.2,3.6l-1.2,3.5l-1.1,3.6l-1.2,3.6l-1.1,3.5l-1.1,3.6l-1,3.6l-1.1,3.6l-1,3.5l-1,3.6l-1.1,3.6l-1,3.5l-1,3.6l-0.9,3.6l-1,3.6l-1,3.5l-0.9,3.6l-1,3.7l-0.9,3.7l-1,3.8l-0.9,3.8l-0.9,3.6l-0.8,3.4l-0.8,3l-0.9,3.6l-0.7,2.3l-0.7,3.1l-1.4,6l-0.6,2.7l-0.7,3.1l-0.7,3.3l-0.8,3.7l-0.8,3.9l-0.9,4l-0.9,4.2l-0.9,4.3l-1,4.3l-0.9,4.2l-0.9,4.3l-0.9,4.1l-0.9,3.9l-0.9,3.8l-0.8,3.9l-0.9,3.8l-0.9,3.9l-0.8,3.8l-0.9,3.9l-0.9,3.8l-0.9,3.9l-0.9,3.8l-0.9,3.9l-0.8,3.8l-0.9,3.9l-0.9,3.8l-0.9,3.8l-0.9,3.9l-0.8,3.8l-0.9,3.9l-0.9,3.8l-0.9,3.9l-0.8,3.8l-0.9,3.9l-0.9,3.8l-0.9,3.9l-0.9,3.8l-0.9,3.9l-0.9,3.8l-0.9,3.8l-0.9,3.9l-1,3.8l-0.9,3.9l-0.9,3.8l-1,3.9l-0.9,3.8l-1,3.9l-0.9,3.8l-0.9,3.9l-1,3.8l-0.9,3.9l-0.9,3.8l-0.9,3.8l-0.9,3.9l-0.9,3.8l-0.9,3.9l-0.9,3.8l-0.8,3.9l-0.9,3.8l-0.9,3.9l-0.9,3.8l-0.9,3.9l-0.8,3.8l-0.9,3.9l-0.9,3.8l-0.9,3.8l-0.9,3.9l-0.8,3.8l-0.9,3.9l-0.9,3.8l-0.9,3.9l-0.9,3.8l-0.8,3.9l-0.9,3.8l-0.9,3.9l-0.9,3.8l-0.9,3.9l-0.9,3.8l-0.9,3.8l-0.9,3.9l-0.9,3.8l-0.9,3.9l-0.9,3.8l-0.9,3.9l-0.9,3.8l-1,3.9l-0.9,3.8l-0.9,3.9l-1,3.8l-0.9,3.9l-1,3.8l-1,3.8l-1,3.9l-1,3.8l-1,3.9l-1,3.8l-1.1,3.9l-1,3.8l-1.1,3.9l-1,3.8l-1.1,3.9l-1.1,3.8l-1,3.9l-1.1,3.8l-1,3.6l-1,3.5l-1,3.6l-1.1,3.6l-1,3.6l-1,3.5l-1,3.6l-1.1,3.6l-1,3.5l-1.1,3.6l-1,3.6l-1,3.6l-1.1,3.5l-1,3.6l-1,3.6l-1,3.5l-1,3.6l-1,3.6l-1,3.6l-1,3.5l-1,3.6l-1,3.6l-1,3.5l-1,3.6l-1.1,3.6l-1,3.6l-1.1,3.5l-1.1,3.6l-1.2,3.6l-1.1,3.6l-1.2,3.5l-1.1,3.6l-1.2,3.6l-1.2,3.6l-1.2,3.6l-1.2,3.5l-1.3,3.6l-1.3,3.6l-1.3,3.6l-1.4,3.5l-1.4,3.6l-1.4,3.5l-1.6,3.6l-1.7,3.7l-1.7,3.8l-1.8,3.8l-1.9,3.8l-1.9,3.9l-1.9,3.8l-1.9,3.7l-1.9,3.6l-1.8,3.4l-1.7,3.3l-1.6,3.1l-1.5,2.9l-1.4,2.6l-2.7,5.1l-2.2,4l-1.8,3.1l-1.7,2.8l-1.7,2.6l-1.9,2.8l-2.1,3l-2,2.7l-2.1,2.7l-2.1,2.6l-2.1,2.6l-2.1,2.6l-2.5,3.2l-2.5,3.3l-2.5,3.3l-2.5,3l-2.5,2.6l-3.1,2.7l-3.1,2.1l-3.2,2l-3.1,1.9l-3.1,2l-3.1,2l-3.2,1.8l-3.1,1.7l-3.1,1.5l-3.1,1.3l-3.2,1.2l-3.1,1.1l-3.1,1.1l-3.1,1l-3.2,0.9l-3.1,0.7l-3.1,0.4l-3.1,0.3l-3.2,0.1l-3.1,0.1l-3.2,0l-3.2,0l-3.2,-0.1l-2.9,0.1l-3.6,0.2l-3.3,0.4l-3.1,0.6l-2.9,0.9l-2.7,1.1l-3.1,1.1l-2.9,0.8l-3.2,0.8l-3.2,0.8l-3.2,0.8l-3.2,0.7l-3.1,0.7l-3.1,0.8l-3.1,0.9l-3.2,1.1l-3.1,1.2l-3.1,1.3l-3.1,1.4l-3.2,1.5l-3.3,1.7l-3.1,1.6l-3,1.5l-3.5,1.2l-3.3,1.1l-3.2,1.4l-2.8,2.1l-2.8,2.5l-3.1,2.9l-2.3,2l-2.4,2.3l-2.6,2.4l-2.6,2.3l-2.6,2.2l-2.5,2.2l-2.5,2l-2.5,2.1l-2.5,1.9l-2.5,1.8l-3.2,2.2l-3.3,2.1l-3.1,1.8l-2.9,1.7l-3.3,1.8l-2.9,1.5l-2.8,1.5l-2.6,1.6l-2.4,1.6l-2.5,1.1l-2.7,0.4l-2.9,-0.1l-3.2,-0.3l-3.5,-0.4l-3.9,-0.6l-3.8,-0.9l-3.8,-1l-3.8,-1.3l-3.7,-1.4l-3.2,-1.6l-3.1,-1.7l-3.7,-1.1l-3.4,-0.2l-3.9,0.2l-4,0.4l-3.7,0.3l-3.3,0.2l-3.1,0.2l-3.1,0.2l-3,0l-3.9,-0.1l-3.8,-0.4l-3.5,-0.8l-3.1,-1.5l-2.8,-1.9l-2.9,-2.2l-2.9,-2.3l-2.9,-2.5l-2.9,-2.7l-2.2,-2.2l-2.3,-2.4l-2.2,-2.2l-2.1,-2l-3,-2.7l-3.2,-1.6l-3.1,-0.4l-3.4,0.2l-3.5,0.2l-3.4,0.4l-3.5,0.4l-3.1,0.4l-4,0.4l-3.5,-0.4l-2.2,-1.3l-2,-2l-2.1,-2.3l-2,-2.7l-2.1,-3.1l-2.1,-2.9l-2.1,-2.8l-2.1,-2.6l-2.1,-2.2l-2.7,-2.4l-3.5,-1.3l-2.9,0l-3.6,0.4l-3.4,0.5l-2.6,0.4l-3,0.2z"/></g>
</g>
<g stroke="#000" stroke-width="5.5"><line x1="477.2" y1="1396.0" x2="477.2" y2="1423.8"/><line x1="765.7" y1="1396.0" x2="765.7" y2="1423.8"/><line x1="1054.2" y1="1396.0" x2="1054.2" y2="1423.8"/><line x1="1342.8" y1="1396.0" x2="1342.8" y2="1423.8"/><line x1="1631.3" y1="1396.0" x2="1631.3" y2="1423.8"/><line x1="1919.8" y1="1396.0" x2="1919.8" y2="1423.8"/><line x1="332.9" y1="1396.0" x2="332.9" y2="1410.0"/><line x1="621.5" y1="1396.0" x2="621.5" y2="1410.0"/><line x1="910.0" y1="1396.0" x2="910.0" y2="1410.0"/><line x1="1198.5" y1="1396.0" x2="1198.5" y2="1410.0"/><line x1="1487.0" y1="1396.0" x2="1487.0" y2="1410.0"/><line x1="1775.5" y1="1396.0" x2="1775.5" y2="1410.0"/></g>
<g stroke="#000" stroke-width="4.2"><line x1="245.5" y1="1154.4" x2="217.9" y2="1154.4"/><line x1="245.5" y1="753.5" x2="217.9" y2="753.5"/><line x1="245.5" y1="352.6" x2="217.9" y2="352.6"/><line x1="245.5" y1="1354.9" x2="231.5" y2="1354.9"/><line x1="245.5" y1="954.0" x2="231.5" y2="954.0"/><line x1="245.5" y1="553.1" x2="231.5" y2="553.1"/><line x1="245.5" y1="152.2" x2="231.5" y2="152.2"/></g>
<g font-size="77.5" fill="#000"><text transform="translate(476.9,1499.6) scale(1,1.050)" text-anchor="middle">300</text><text transform="translate(765.4,1499.6) scale(1,1.050)" text-anchor="middle">400</text><text transform="translate(1053.9,1499.6) scale(1,1.050)" text-anchor="middle">500</text><text transform="translate(1342.5,1499.6) scale(1,1.050)" text-anchor="middle">600</text><text transform="translate(1631.0,1499.6) scale(1,1.050)" text-anchor="middle">700</text><text transform="translate(1919.5,1499.6) scale(1,1.050)" text-anchor="middle">800</text><text transform="translate(202.0,1175.4) scale(1,1.050)" text-anchor="end">5</text><text transform="translate(202.0,774.5) scale(1,1.050)" text-anchor="end">10</text><text transform="translate(202.0,373.6) scale(1,1.050)" text-anchor="end">15</text></g>
<g font-size="66.6">
<text transform="translate(1468.3,139.8) scale(1,1.050)" fill="#0000ff">CeO-3</text>
<text transform="translate(1465.3,336.9) scale(1,1.050)" fill="#ff0000">CeO-2</text>
<text transform="translate(1476.8,690.0) scale(1,1.050)" fill="#000000">CeO-1</text>
</g>
<text transform="translate(1091.5,1591.2) scale(1.26,1.01)" font-size="69" fill="#000" style="font-family:'Liberation Serif',serif;font-weight:normal">λ</text>
<text transform="translate(1130.4,1590.0) scale(1,1.050)" font-size="74" fill="#000" style="white-space:pre"> <tspan font-size="69">(</tspan><tspan dx="2">nm</tspan><tspan font-size="69">)</tspan></text>
<text transform="translate(81.5,745) rotate(-90) scale(1,1.05)" font-size="78" fill="#000"><tspan font-size="81">R</tspan><tspan dx="-0.5"> (</tspan><tspan dx="4">%</tspan><tspan dx="1.5">)</tspan></text>
</g>
</svg>
</body></html>
